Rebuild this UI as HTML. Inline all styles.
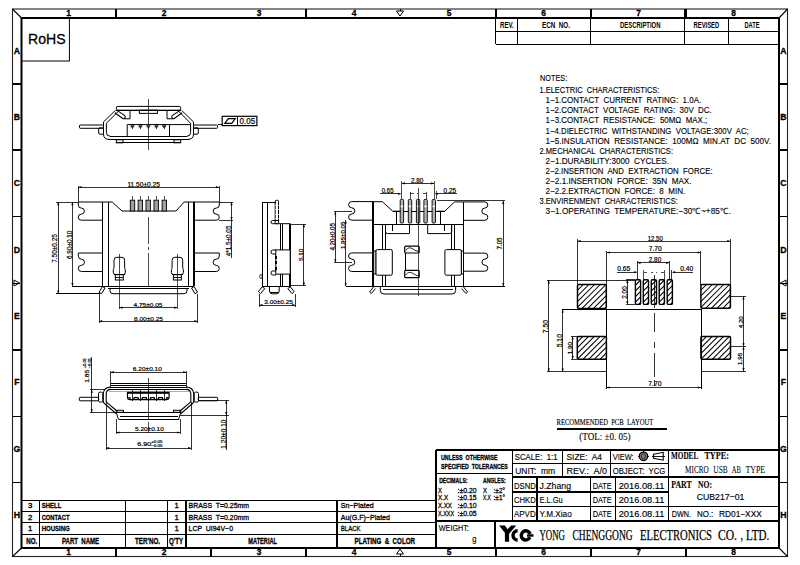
<!DOCTYPE html><html><head><meta charset="utf-8"><style>html,body{margin:0;padding:0;background:#fff;}svg{display:block;}</style></head><body><svg width="800" height="565" viewBox="0 0 800 565"><rect x="12.5" y="9" width="775" height="547.5" rx="0" fill="none" stroke="#222" stroke-width="1.1"/>
<rect x="21.5" y="18" width="757.5" height="530" rx="0" fill="none" stroke="#000" stroke-width="2.0"/>
<line x1="12.5" y1="9" x2="21.5" y2="18" stroke="#000" stroke-width="1.1"/>
<line x1="787.5" y1="9" x2="779" y2="18" stroke="#000" stroke-width="1.1"/>
<line x1="12.5" y1="556.5" x2="21.5" y2="548" stroke="#000" stroke-width="1.1"/>
<line x1="787.5" y1="556.5" x2="779" y2="548" stroke="#000" stroke-width="1.1"/>
<line x1="116" y1="9" x2="116" y2="18" stroke="#000" stroke-width="1.1" shape-rendering="crispEdges"/>
<line x1="306" y1="9" x2="306" y2="18" stroke="#000" stroke-width="1.1" shape-rendering="crispEdges"/>
<line x1="496" y1="9" x2="496" y2="18" stroke="#000" stroke-width="1.1" shape-rendering="crispEdges"/>
<line x1="591" y1="9" x2="591" y2="18" stroke="#000" stroke-width="1.1" shape-rendering="crispEdges"/>
<line x1="686" y1="9" x2="686" y2="18" stroke="#000" stroke-width="1.1" shape-rendering="crispEdges"/>
<line x1="116" y1="548" x2="116" y2="556.5" stroke="#000" stroke-width="1.1" shape-rendering="crispEdges"/>
<line x1="211" y1="548" x2="211" y2="556.5" stroke="#000" stroke-width="1.1" shape-rendering="crispEdges"/>
<line x1="306" y1="548" x2="306" y2="556.5" stroke="#000" stroke-width="1.1" shape-rendering="crispEdges"/>
<line x1="496" y1="548" x2="496" y2="556.5" stroke="#000" stroke-width="1.1" shape-rendering="crispEdges"/>
<line x1="591" y1="548" x2="591" y2="556.5" stroke="#000" stroke-width="1.1" shape-rendering="crispEdges"/>
<line x1="686" y1="548" x2="686" y2="556.5" stroke="#000" stroke-width="1.1" shape-rendering="crispEdges"/>
<line x1="12.5" y1="84" x2="21.5" y2="84" stroke="#000" stroke-width="1.1" shape-rendering="crispEdges"/>
<line x1="779" y1="84" x2="787.5" y2="84" stroke="#000" stroke-width="1.1" shape-rendering="crispEdges"/>
<line x1="12.5" y1="150" x2="21.5" y2="150" stroke="#000" stroke-width="1.1" shape-rendering="crispEdges"/>
<line x1="779" y1="150" x2="787.5" y2="150" stroke="#000" stroke-width="1.1" shape-rendering="crispEdges"/>
<line x1="12.5" y1="216.5" x2="21.5" y2="216.5" stroke="#000" stroke-width="1.1" shape-rendering="crispEdges"/>
<line x1="779" y1="216.5" x2="787.5" y2="216.5" stroke="#000" stroke-width="1.1" shape-rendering="crispEdges"/>
<line x1="12.5" y1="350" x2="21.5" y2="350" stroke="#000" stroke-width="1.1" shape-rendering="crispEdges"/>
<line x1="779" y1="350" x2="787.5" y2="350" stroke="#000" stroke-width="1.1" shape-rendering="crispEdges"/>
<line x1="12.5" y1="416.5" x2="21.5" y2="416.5" stroke="#000" stroke-width="1.1" shape-rendering="crispEdges"/>
<line x1="779" y1="416.5" x2="787.5" y2="416.5" stroke="#000" stroke-width="1.1" shape-rendering="crispEdges"/>
<line x1="12.5" y1="482.5" x2="21.5" y2="482.5" stroke="#000" stroke-width="1.1" shape-rendering="crispEdges"/>
<line x1="779" y1="482.5" x2="787.5" y2="482.5" stroke="#000" stroke-width="1.1" shape-rendering="crispEdges"/>
<text x="68.5" y="16.3" font-family="Liberation Sans" font-size="8.43" font-weight="bold" text-anchor="middle" stroke="#000" stroke-width="0.3" fill="#000" style="white-space:pre">1</text>
<text x="68.5" y="555.3" font-family="Liberation Sans" font-size="8.43" font-weight="bold" text-anchor="middle" stroke="#000" stroke-width="0.3" fill="#000" style="white-space:pre">1</text>
<text x="164" y="16.3" font-family="Liberation Sans" font-size="8.43" font-weight="bold" text-anchor="middle" stroke="#000" stroke-width="0.3" fill="#000" style="white-space:pre">2</text>
<text x="164" y="555.3" font-family="Liberation Sans" font-size="8.43" font-weight="bold" text-anchor="middle" stroke="#000" stroke-width="0.3" fill="#000" style="white-space:pre">2</text>
<text x="259" y="16.3" font-family="Liberation Sans" font-size="8.43" font-weight="bold" text-anchor="middle" stroke="#000" stroke-width="0.3" fill="#000" style="white-space:pre">3</text>
<text x="259" y="555.3" font-family="Liberation Sans" font-size="8.43" font-weight="bold" text-anchor="middle" stroke="#000" stroke-width="0.3" fill="#000" style="white-space:pre">3</text>
<text x="354" y="16.3" font-family="Liberation Sans" font-size="8.43" font-weight="bold" text-anchor="middle" stroke="#000" stroke-width="0.3" fill="#000" style="white-space:pre">4</text>
<text x="354" y="555.3" font-family="Liberation Sans" font-size="8.43" font-weight="bold" text-anchor="middle" stroke="#000" stroke-width="0.3" fill="#000" style="white-space:pre">4</text>
<text x="449" y="16.3" font-family="Liberation Sans" font-size="8.43" font-weight="bold" text-anchor="middle" stroke="#000" stroke-width="0.3" fill="#000" style="white-space:pre">5</text>
<text x="449" y="555.3" font-family="Liberation Sans" font-size="8.43" font-weight="bold" text-anchor="middle" stroke="#000" stroke-width="0.3" fill="#000" style="white-space:pre">5</text>
<text x="543.5" y="16.3" font-family="Liberation Sans" font-size="8.43" font-weight="bold" text-anchor="middle" stroke="#000" stroke-width="0.3" fill="#000" style="white-space:pre">6</text>
<text x="543.5" y="555.3" font-family="Liberation Sans" font-size="8.43" font-weight="bold" text-anchor="middle" stroke="#000" stroke-width="0.3" fill="#000" style="white-space:pre">6</text>
<text x="638.5" y="16.3" font-family="Liberation Sans" font-size="8.43" font-weight="bold" text-anchor="middle" stroke="#000" stroke-width="0.3" fill="#000" style="white-space:pre">7</text>
<text x="638.5" y="555.3" font-family="Liberation Sans" font-size="8.43" font-weight="bold" text-anchor="middle" stroke="#000" stroke-width="0.3" fill="#000" style="white-space:pre">7</text>
<text x="733.5" y="16.3" font-family="Liberation Sans" font-size="8.43" font-weight="bold" text-anchor="middle" stroke="#000" stroke-width="0.3" fill="#000" style="white-space:pre">8</text>
<text x="733.5" y="555.3" font-family="Liberation Sans" font-size="8.43" font-weight="bold" text-anchor="middle" stroke="#000" stroke-width="0.3" fill="#000" style="white-space:pre">8</text>
<text x="17" y="53.5" font-family="Liberation Sans" font-size="8.72" font-weight="bold" text-anchor="middle" stroke="#000" stroke-width="0.3" fill="#000" style="white-space:pre">A</text>
<text x="783.3" y="53.5" font-family="Liberation Sans" font-size="8.72" font-weight="bold" text-anchor="middle" stroke="#000" stroke-width="0.3" fill="#000" style="white-space:pre">A</text>
<text x="17" y="120" font-family="Liberation Sans" font-size="8.72" font-weight="bold" text-anchor="middle" stroke="#000" stroke-width="0.3" fill="#000" style="white-space:pre">B</text>
<text x="783.3" y="120" font-family="Liberation Sans" font-size="8.72" font-weight="bold" text-anchor="middle" stroke="#000" stroke-width="0.3" fill="#000" style="white-space:pre">B</text>
<text x="17" y="186" font-family="Liberation Sans" font-size="8.72" font-weight="bold" text-anchor="middle" stroke="#000" stroke-width="0.3" fill="#000" style="white-space:pre">C</text>
<text x="783.3" y="186" font-family="Liberation Sans" font-size="8.72" font-weight="bold" text-anchor="middle" stroke="#000" stroke-width="0.3" fill="#000" style="white-space:pre">C</text>
<text x="17" y="252.5" font-family="Liberation Sans" font-size="8.72" font-weight="bold" text-anchor="middle" stroke="#000" stroke-width="0.3" fill="#000" style="white-space:pre">D</text>
<text x="783.3" y="252.5" font-family="Liberation Sans" font-size="8.72" font-weight="bold" text-anchor="middle" stroke="#000" stroke-width="0.3" fill="#000" style="white-space:pre">D</text>
<text x="17" y="319" font-family="Liberation Sans" font-size="8.72" font-weight="bold" text-anchor="middle" stroke="#000" stroke-width="0.3" fill="#000" style="white-space:pre">E</text>
<text x="783.3" y="319" font-family="Liberation Sans" font-size="8.72" font-weight="bold" text-anchor="middle" stroke="#000" stroke-width="0.3" fill="#000" style="white-space:pre">E</text>
<text x="17" y="385" font-family="Liberation Sans" font-size="8.72" font-weight="bold" text-anchor="middle" stroke="#000" stroke-width="0.3" fill="#000" style="white-space:pre">F</text>
<text x="783.3" y="385" font-family="Liberation Sans" font-size="8.72" font-weight="bold" text-anchor="middle" stroke="#000" stroke-width="0.3" fill="#000" style="white-space:pre">F</text>
<text x="17" y="451.5" font-family="Liberation Sans" font-size="8.72" font-weight="bold" text-anchor="middle" stroke="#000" stroke-width="0.3" fill="#000" style="white-space:pre">G</text>
<text x="783.3" y="451.5" font-family="Liberation Sans" font-size="8.72" font-weight="bold" text-anchor="middle" stroke="#000" stroke-width="0.3" fill="#000" style="white-space:pre">G</text>
<text x="17" y="518" font-family="Liberation Sans" font-size="8.72" font-weight="bold" text-anchor="middle" stroke="#000" stroke-width="0.3" fill="#000" style="white-space:pre">H</text>
<text x="783.3" y="518" font-family="Liberation Sans" font-size="8.72" font-weight="bold" text-anchor="middle" stroke="#000" stroke-width="0.3" fill="#000" style="white-space:pre">H</text>
<polygon points="396.5,11 403.5,11 400,16" fill="none" stroke="#000" stroke-width="1.0"/>
<polygon points="396.5,554 403.5,554 400,549" fill="none" stroke="#000" stroke-width="1.0"/>
<polygon points="14,280 14,286 19.5,283" fill="none" stroke="#000" stroke-width="1.0"/>
<polygon points="786,280 786,286 780.5,283" fill="none" stroke="#000" stroke-width="1.0"/>
<line x1="12.5" y1="283" x2="19.5" y2="283" stroke="#000" stroke-width="1.0" shape-rendering="crispEdges"/>
<line x1="779.5" y1="283" x2="787.5" y2="283" stroke="#000" stroke-width="1.0" shape-rendering="crispEdges"/>
<line x1="400" y1="9" x2="400" y2="11" stroke="#000" stroke-width="1.0" shape-rendering="crispEdges"/>
<line x1="400" y1="556" x2="400" y2="554" stroke="#000" stroke-width="1.0" shape-rendering="crispEdges"/>
<rect x="21.5" y="18" width="47.9" height="43" rx="0" fill="none" stroke="#000" stroke-width="1.0"/>
<text x="28.1" y="44.4" font-family="Liberation Sans" font-size="15.41" textLength="37.5" lengthAdjust="spacingAndGlyphs" stroke="#000" stroke-width="0.3" fill="#000" style="white-space:pre">RoHS</text>
<line x1="495.5" y1="9" x2="495.5" y2="44" stroke="#000" stroke-width="1.6" shape-rendering="crispEdges"/>
<line x1="590" y1="9" x2="590" y2="44" stroke="#000" stroke-width="1.0" shape-rendering="crispEdges"/>
<line x1="684.5" y1="9" x2="684.5" y2="44" stroke="#000" stroke-width="1.0" shape-rendering="crispEdges"/>
<line x1="517.3" y1="18" x2="517.3" y2="44" stroke="#000" stroke-width="1.0" shape-rendering="crispEdges"/>
<line x1="728.8" y1="18" x2="728.8" y2="44" stroke="#000" stroke-width="1.0" shape-rendering="crispEdges"/>
<line x1="495.5" y1="31" x2="779" y2="31" stroke="#000" stroke-width="1.0" shape-rendering="crispEdges"/>
<line x1="495.5" y1="44.3" x2="779" y2="44.3" stroke="#000" stroke-width="1.2" shape-rendering="crispEdges"/>
<text x="500" y="27.8" font-family="Liberation Sans" font-size="8.58" font-weight="bold" textLength="13.8" lengthAdjust="spacingAndGlyphs" fill="#000" style="white-space:pre">REV.</text>
<text x="542" y="27.8" font-family="Liberation Sans" font-size="8.58" font-weight="bold" textLength="28" lengthAdjust="spacingAndGlyphs" fill="#000" style="white-space:pre">ECN  NO.</text>
<text x="620" y="27.8" font-family="Liberation Sans" font-size="8.58" font-weight="bold" textLength="40.5" lengthAdjust="spacingAndGlyphs" fill="#000" style="white-space:pre">DESCRIPTION</text>
<text x="693.5" y="27.8" font-family="Liberation Sans" font-size="8.58" font-weight="bold" textLength="25.7" lengthAdjust="spacingAndGlyphs" fill="#000" style="white-space:pre">REVISED</text>
<text x="744.4" y="27.8" font-family="Liberation Sans" font-size="8.58" font-weight="bold" textLength="15.1" lengthAdjust="spacingAndGlyphs" fill="#000" style="white-space:pre">DATE</text>
<text x="540" y="81.3" font-family="Liberation Sans" font-size="8.43" textLength="27.2" lengthAdjust="spacingAndGlyphs" stroke="#000" stroke-width="0.12" fill="#000" style="white-space:pre">NOTES:</text>
<text x="539.5" y="93.4" font-family="Liberation Sans" font-size="8.58" textLength="119.9" lengthAdjust="spacingAndGlyphs" stroke="#000" stroke-width="0.12" fill="#000" style="white-space:pre">1.ELECTRIC  CHARACTERISTICS:</text>
<text x="545.6" y="103.43" font-family="Liberation Sans" font-size="8.58" textLength="155.6" lengthAdjust="spacingAndGlyphs" stroke="#000" stroke-width="0.12" fill="#000" style="white-space:pre">1−1.CONTACT  CURRENT  RATING:  1.0A.</text>
<text x="545.6" y="113.46" font-family="Liberation Sans" font-size="8.58" textLength="166.1" lengthAdjust="spacingAndGlyphs" stroke="#000" stroke-width="0.12" fill="#000" style="white-space:pre">1−2.CONTACT  VOLTAGE  RATING:  30V  DC.</text>
<text x="545.6" y="123.49" font-family="Liberation Sans" font-size="8.58" textLength="161.7" lengthAdjust="spacingAndGlyphs" stroke="#000" stroke-width="0.12" fill="#000" style="white-space:pre">1−3.CONTACT  RESISTANCE:  50MΩ  MAX.;</text>
<text x="545.6" y="133.52" font-family="Liberation Sans" font-size="8.58" textLength="203.2" lengthAdjust="spacingAndGlyphs" stroke="#000" stroke-width="0.12" fill="#000" style="white-space:pre">1−4.DIELECTRIC  WITHSTANDING  VOLTAGE:300V  AC;</text>
<text x="545.6" y="143.55" font-family="Liberation Sans" font-size="8.58" textLength="225.4" lengthAdjust="spacingAndGlyphs" stroke="#000" stroke-width="0.12" fill="#000" style="white-space:pre">1−5.INSULATION  RESISTANCE:  100MΩ  MIN.AT  DC  500V.</text>
<text x="539.5" y="153.58" font-family="Liberation Sans" font-size="8.58" textLength="133.5" lengthAdjust="spacingAndGlyphs" stroke="#000" stroke-width="0.12" fill="#000" style="white-space:pre">2.MECHANICAL  CHARACTERISTICS:</text>
<text x="545.6" y="163.61" font-family="Liberation Sans" font-size="8.58" textLength="123.4" lengthAdjust="spacingAndGlyphs" stroke="#000" stroke-width="0.12" fill="#000" style="white-space:pre">2−1.DURABILITY:3000  CYCLES.</text>
<text x="545.6" y="173.64" font-family="Liberation Sans" font-size="8.58" textLength="167" lengthAdjust="spacingAndGlyphs" stroke="#000" stroke-width="0.12" fill="#000" style="white-space:pre">2−2.INSERTION  AND  EXTRACTION  FORCE:</text>
<text x="545.6" y="183.67" font-family="Liberation Sans" font-size="8.58" textLength="145.9" lengthAdjust="spacingAndGlyphs" stroke="#000" stroke-width="0.12" fill="#000" style="white-space:pre">2−2.1.INSERTION  FORCE:  35N  MAX.</text>
<text x="545.6" y="193.7" font-family="Liberation Sans" font-size="8.58" textLength="139.7" lengthAdjust="spacingAndGlyphs" stroke="#000" stroke-width="0.12" fill="#000" style="white-space:pre">2−2.2.EXTRACTION  FORCE:  8  MIN.</text>
<text x="539.5" y="203.73" font-family="Liberation Sans" font-size="8.58" textLength="138.4" lengthAdjust="spacingAndGlyphs" stroke="#000" stroke-width="0.12" fill="#000" style="white-space:pre">3.ENVIRENMENT  CHARACTERISTICS:</text>
<text x="545.6" y="213.76" font-family="Liberation Sans" font-size="8.58" textLength="185.2" lengthAdjust="spacingAndGlyphs" stroke="#000" stroke-width="0.12" fill="#000" style="white-space:pre">3−1.OPERATING  TEMPERATURE:−30℃~+85℃.</text>
<clipPath id="c97"><rect x="577.5" y="284.5" width="28.8" height="23.9"/></clipPath>
<path d="M553.6,308.4 L577.5,284.5 M559.3,308.4 L583.2,284.5 M565,308.4 L588.9,284.5 M570.7,308.4 L594.6,284.5 M576.4,308.4 L600.3,284.5 M582.1,308.4 L606,284.5 M587.8,308.4 L611.7,284.5 M593.5,308.4 L617.4,284.5 M599.2,308.4 L623.1,284.5 M604.9,308.4 L628.8,284.5 M610.6,308.4 L634.5,284.5 M616.3,308.4 L640.2,284.5 M622,308.4 L645.9,284.5 M627.7,308.4 L651.6,284.5" stroke="#000" stroke-width="1.05" clip-path="url(#c97)"/>
<rect x="577.5" y="284.5" width="28.8" height="23.9" rx="1.2" fill="none" stroke="#000" stroke-width="1.5"/>
<clipPath id="c100"><rect x="700.9" y="284.5" width="29.5" height="23.8"/></clipPath>
<path d="M677.1,308.3 L700.9,284.5 M682.8,308.3 L706.6,284.5 M688.5,308.3 L712.3,284.5 M694.2,308.3 L718,284.5 M699.9,308.3 L723.7,284.5 M705.6,308.3 L729.4,284.5 M711.3,308.3 L735.1,284.5 M717,308.3 L740.8,284.5 M722.7,308.3 L746.5,284.5 M728.4,308.3 L752.2,284.5 M734.1,308.3 L757.9,284.5 M739.8,308.3 L763.6,284.5 M745.5,308.3 L769.3,284.5 M751.2,308.3 L775,284.5" stroke="#000" stroke-width="1.05" clip-path="url(#c100)"/>
<rect x="700.9" y="284.5" width="29.5" height="23.8" rx="1.2" fill="none" stroke="#000" stroke-width="1.5"/>
<clipPath id="c103"><rect x="577.3" y="336.4" width="29.1" height="22.9"/></clipPath>
<path d="M554.4,359.3 L577.3,336.4 M560.1,359.3 L583,336.4 M565.8,359.3 L588.7,336.4 M571.5,359.3 L594.4,336.4 M577.2,359.3 L600.1,336.4 M582.9,359.3 L605.8,336.4 M588.6,359.3 L611.5,336.4 M594.3,359.3 L617.2,336.4 M600,359.3 L622.9,336.4 M605.7,359.3 L628.6,336.4 M611.4,359.3 L634.3,336.4 M617.1,359.3 L640,336.4 M622.8,359.3 L645.7,336.4 M628.5,359.3 L651.4,336.4" stroke="#000" stroke-width="1.05" clip-path="url(#c103)"/>
<rect x="577.3" y="336.4" width="29.1" height="22.9" rx="1.2" fill="none" stroke="#000" stroke-width="1.5"/>
<clipPath id="c106"><rect x="700.9" y="336.4" width="29.6" height="22.9"/></clipPath>
<path d="M678,359.3 L700.9,336.4 M683.7,359.3 L706.6,336.4 M689.4,359.3 L712.3,336.4 M695.1,359.3 L718,336.4 M700.8,359.3 L723.7,336.4 M706.5,359.3 L729.4,336.4 M712.2,359.3 L735.1,336.4 M717.9,359.3 L740.8,336.4 M723.6,359.3 L746.5,336.4 M729.3,359.3 L752.2,336.4 M735,359.3 L757.9,336.4 M740.7,359.3 L763.6,336.4 M746.4,359.3 L769.3,336.4 M752.1,359.3 L775,336.4" stroke="#000" stroke-width="1.05" clip-path="url(#c106)"/>
<rect x="700.9" y="336.4" width="29.6" height="22.9" rx="1.2" fill="none" stroke="#000" stroke-width="1.5"/>
<clipPath id="c109"><rect x="635.4" y="279.7" width="5.2" height="24.7"/></clipPath>
<path d="M610.7,304.4 L635.4,279.7 M616.3,304.4 L641,279.7 M621.9,304.4 L646.6,279.7 M627.5,304.4 L652.2,279.7 M633.1,304.4 L657.8,279.7 M638.7,304.4 L663.4,279.7 M644.3,304.4 L669,279.7 M649.9,304.4 L674.6,279.7 M655.5,304.4 L680.2,279.7 M661.1,304.4 L685.8,279.7" stroke="#000" stroke-width="1.05" clip-path="url(#c109)"/>
<rect x="635.4" y="279.7" width="5.2" height="24.7" rx="1.2" fill="none" stroke="#000" stroke-width="1.4"/>
<clipPath id="c112"><rect x="643.3" y="279.7" width="5.2" height="24.7"/></clipPath>
<path d="M618.6,304.4 L643.3,279.7 M624.2,304.4 L648.9,279.7 M629.8,304.4 L654.5,279.7 M635.4,304.4 L660.1,279.7 M641,304.4 L665.7,279.7 M646.6,304.4 L671.3,279.7 M652.2,304.4 L676.9,279.7 M657.8,304.4 L682.5,279.7 M663.4,304.4 L688.1,279.7 M669,304.4 L693.7,279.7" stroke="#000" stroke-width="1.05" clip-path="url(#c112)"/>
<rect x="643.3" y="279.7" width="5.2" height="24.7" rx="1.2" fill="none" stroke="#000" stroke-width="1.4"/>
<clipPath id="c115"><rect x="651.3" y="279.7" width="5.2" height="24.7"/></clipPath>
<path d="M626.6,304.4 L651.3,279.7 M632.2,304.4 L656.9,279.7 M637.8,304.4 L662.5,279.7 M643.4,304.4 L668.1,279.7 M649,304.4 L673.7,279.7 M654.6,304.4 L679.3,279.7 M660.2,304.4 L684.9,279.7 M665.8,304.4 L690.5,279.7 M671.4,304.4 L696.1,279.7 M677,304.4 L701.7,279.7" stroke="#000" stroke-width="1.05" clip-path="url(#c115)"/>
<rect x="651.3" y="279.7" width="5.2" height="24.7" rx="1.2" fill="none" stroke="#000" stroke-width="1.4"/>
<clipPath id="c118"><rect x="659.2" y="279.7" width="5.2" height="24.7"/></clipPath>
<path d="M634.5,304.4 L659.2,279.7 M640.1,304.4 L664.8,279.7 M645.7,304.4 L670.4,279.7 M651.3,304.4 L676,279.7 M656.9,304.4 L681.6,279.7 M662.5,304.4 L687.2,279.7 M668.1,304.4 L692.8,279.7 M673.7,304.4 L698.4,279.7 M679.3,304.4 L704,279.7 M684.9,304.4 L709.6,279.7" stroke="#000" stroke-width="1.05" clip-path="url(#c118)"/>
<rect x="659.2" y="279.7" width="5.2" height="24.7" rx="1.2" fill="none" stroke="#000" stroke-width="1.4"/>
<clipPath id="c121"><rect x="667.2" y="279.7" width="5.2" height="24.7"/></clipPath>
<path d="M642.5,304.4 L667.2,279.7 M648.1,304.4 L672.8,279.7 M653.7,304.4 L678.4,279.7 M659.3,304.4 L684,279.7 M664.9,304.4 L689.6,279.7 M670.5,304.4 L695.2,279.7 M676.1,304.4 L700.8,279.7 M681.7,304.4 L706.4,279.7 M687.3,304.4 L712,279.7 M692.9,304.4 L717.6,279.7" stroke="#000" stroke-width="1.05" clip-path="url(#c121)"/>
<rect x="667.2" y="279.7" width="5.2" height="24.7" rx="1.2" fill="none" stroke="#000" stroke-width="1.4"/>
<line x1="562" y1="309.4" x2="701" y2="309.4" stroke="#000" stroke-width="1.0" shape-rendering="crispEdges"/>
<line x1="606.5" y1="309.4" x2="606.5" y2="388.5" stroke="#000" stroke-width="1.0" shape-rendering="crispEdges"/>
<line x1="701" y1="309.4" x2="701" y2="388.5" stroke="#000" stroke-width="1.0" shape-rendering="crispEdges"/>
<line x1="577.5" y1="241" x2="730.4" y2="241" stroke="#000" stroke-width="0.8" shape-rendering="crispEdges"/>
<polygon points="577.5,241 580.7,239.9 580.7,242.1" fill="#000"/>
<polygon points="730.4,241 727.2,242.1 727.2,239.9" fill="#000"/>
<line x1="577.5" y1="238.5" x2="577.5" y2="284.5" stroke="#000" stroke-width="0.8" shape-rendering="crispEdges"/>
<line x1="730.4" y1="238.5" x2="730.4" y2="284.5" stroke="#000" stroke-width="0.8" shape-rendering="crispEdges"/>
<text x="647.7" y="240.7" font-family="Liberation Sans" font-size="6.54" textLength="15.2" lengthAdjust="spacingAndGlyphs" stroke="#000" stroke-width="0.2" fill="#000" style="white-space:pre">12.50</text>
<line x1="606.6" y1="252.5" x2="700.9" y2="252.5" stroke="#000" stroke-width="0.8" shape-rendering="crispEdges"/>
<polygon points="606.6,252.5 609.8,251.4 609.8,253.6" fill="#000"/>
<polygon points="700.9,252.5 697.7,253.6 697.7,251.4" fill="#000"/>
<line x1="606.6" y1="250.5" x2="606.6" y2="284.5" stroke="#000" stroke-width="0.8" shape-rendering="crispEdges"/>
<line x1="700.9" y1="250.5" x2="700.9" y2="284.5" stroke="#000" stroke-width="0.8" shape-rendering="crispEdges"/>
<text x="648.8" y="251.4" font-family="Liberation Sans" font-size="6.54" textLength="12.9" lengthAdjust="spacingAndGlyphs" stroke="#000" stroke-width="0.2" fill="#000" style="white-space:pre">7.70</text>
<line x1="637.3" y1="262.8" x2="669.4" y2="262.8" stroke="#000" stroke-width="0.8" shape-rendering="crispEdges"/>
<polygon points="637.3,262.8 640.5,261.7 640.5,263.9" fill="#000"/>
<polygon points="669.4,262.8 666.2,263.9 666.2,261.7" fill="#000"/>
<line x1="637.5" y1="260.5" x2="637.5" y2="279.7" stroke="#000" stroke-width="0.8" shape-rendering="crispEdges"/>
<line x1="669.6" y1="260.5" x2="669.6" y2="279.7" stroke="#000" stroke-width="0.8" shape-rendering="crispEdges"/>
<text x="648.8" y="262" font-family="Liberation Sans" font-size="6.4" textLength="12.4" lengthAdjust="spacingAndGlyphs" stroke="#000" stroke-width="0.2" fill="#000" style="white-space:pre">2.80</text>
<line x1="617" y1="272.2" x2="635.3" y2="272.2" stroke="#000" stroke-width="0.8" shape-rendering="crispEdges"/>
<polygon points="637.5,272.2 634.3,273.3 634.3,271.1" fill="#000"/>
<text x="617.3" y="271" font-family="Liberation Sans" font-size="6.4" textLength="12.9" lengthAdjust="spacingAndGlyphs" stroke="#000" stroke-width="0.2" fill="#000" style="white-space:pre">0.65</text>
<line x1="673" y1="272.2" x2="693" y2="272.2" stroke="#000" stroke-width="0.8" shape-rendering="crispEdges"/>
<polygon points="671.9,272.2 675.1,271.1 675.1,273.3" fill="#000"/>
<text x="680.3" y="271" font-family="Liberation Sans" font-size="6.4" textLength="12.9" lengthAdjust="spacingAndGlyphs" stroke="#000" stroke-width="0.2" fill="#000" style="white-space:pre">0.40</text>
<line x1="671.9" y1="270" x2="671.9" y2="279.7" stroke="#000" stroke-width="0.8" shape-rendering="crispEdges"/>
<line x1="643.6" y1="270" x2="643.6" y2="279.7" stroke="#000" stroke-width="0.7" shape-rendering="crispEdges"/>
<line x1="643.6" y1="272.2" x2="647.2" y2="272.2" stroke="#000" stroke-width="0.7" shape-rendering="crispEdges"/>
<line x1="664.2" y1="270" x2="664.2" y2="279.7" stroke="#000" stroke-width="0.7" shape-rendering="crispEdges"/>
<line x1="660.6" y1="272.2" x2="664.2" y2="272.2" stroke="#000" stroke-width="0.7" shape-rendering="crispEdges"/>
<line x1="651.3" y1="272.2" x2="652.5" y2="272.2" stroke="#000" stroke-width="0.7" shape-rendering="crispEdges"/>
<line x1="655.5" y1="272.2" x2="656.7" y2="272.2" stroke="#000" stroke-width="0.7" shape-rendering="crispEdges"/>
<line x1="627.3" y1="279.7" x2="627.3" y2="304.4" stroke="#000" stroke-width="0.8" shape-rendering="crispEdges"/>
<polygon points="627.3,279.7 628.4,282.9 626.2,282.9" fill="#000"/>
<polygon points="627.3,304.4 626.2,301.2 628.4,301.2" fill="#000"/>
<line x1="625.5" y1="279.7" x2="635.3" y2="279.7" stroke="#000" stroke-width="0.8" shape-rendering="crispEdges"/>
<line x1="625.5" y1="304.4" x2="635.3" y2="304.4" stroke="#000" stroke-width="0.8" shape-rendering="crispEdges"/>
<text x="0" y="0" font-family="Liberation Sans" font-size="6.54" textLength="12.7" lengthAdjust="spacingAndGlyphs" text-anchor="middle" stroke="#000" stroke-width="0.2" style="white-space:pre" transform="translate(626.55 292.5) rotate(-90)">2.00</text>
<line x1="548.8" y1="280.2" x2="548.8" y2="371.7" stroke="#000" stroke-width="0.8" shape-rendering="crispEdges"/>
<polygon points="548.8,280.2 549.9,283.4 547.7,283.4" fill="#000"/>
<polygon points="548.8,371.7 547.7,368.5 549.9,368.5" fill="#000"/>
<line x1="547" y1="280.2" x2="635" y2="280.2" stroke="#000" stroke-width="0.8" shape-rendering="crispEdges"/>
<line x1="547" y1="371.7" x2="606.5" y2="371.7" stroke="#000" stroke-width="0.8" shape-rendering="crispEdges"/>
<text x="0" y="0" font-family="Liberation Sans" font-size="6.54" textLength="13.3" lengthAdjust="spacingAndGlyphs" text-anchor="middle" stroke="#000" stroke-width="0.2" style="white-space:pre" transform="translate(548.45 326.5) rotate(-90)">7.50</text>
<line x1="562.7" y1="309.4" x2="562.7" y2="371.7" stroke="#000" stroke-width="0.8" shape-rendering="crispEdges"/>
<polygon points="562.7,309.4 563.8,312.6 561.6,312.6" fill="#000"/>
<polygon points="562.7,371.7 561.6,368.5 563.8,368.5" fill="#000"/>
<text x="0" y="0" font-family="Liberation Sans" font-size="6.54" textLength="13.3" lengthAdjust="spacingAndGlyphs" text-anchor="middle" stroke="#000" stroke-width="0.2" style="white-space:pre" transform="translate(562.15 340.7) rotate(-90)">5.10</text>
<line x1="572.7" y1="336.4" x2="572.7" y2="359.3" stroke="#000" stroke-width="0.8" shape-rendering="crispEdges"/>
<polygon points="572.7,336.4 573.8,339.6 571.6,339.6" fill="#000"/>
<polygon points="572.7,359.3 571.6,356.1 573.8,356.1" fill="#000"/>
<line x1="571" y1="336.4" x2="577.3" y2="336.4" stroke="#000" stroke-width="0.8" shape-rendering="crispEdges"/>
<line x1="571" y1="359.3" x2="577.3" y2="359.3" stroke="#000" stroke-width="0.8" shape-rendering="crispEdges"/>
<text x="0" y="0" font-family="Liberation Sans" font-size="5.81" textLength="12.3" lengthAdjust="spacingAndGlyphs" text-anchor="middle" stroke="#000" stroke-width="0.2" style="white-space:pre" transform="translate(572.1 348.2) rotate(-90)">1.90</text>
<line x1="606.5" y1="387.5" x2="701" y2="387.5" stroke="#000" stroke-width="0.8" shape-rendering="crispEdges"/>
<polygon points="606.5,387.5 609.7,386.4 609.7,388.6" fill="#000"/>
<polygon points="701,387.5 697.8,388.6 697.8,386.4" fill="#000"/>
<text x="648.3" y="386.3" font-family="Liberation Sans" font-size="6.54" textLength="13.2" lengthAdjust="spacingAndGlyphs" stroke="#000" stroke-width="0.2" fill="#000" style="white-space:pre">7.70</text>
<line x1="743.5" y1="296.4" x2="743.5" y2="346.5" stroke="#000" stroke-width="0.8" shape-rendering="crispEdges"/>
<polygon points="743.5,296.4 744.6,299.6 742.4,299.6" fill="#000"/>
<polygon points="743.5,346.5 742.4,343.3 744.6,343.3" fill="#000"/>
<line x1="730.4" y1="296.4" x2="746" y2="296.4" stroke="#000" stroke-width="0.8" shape-rendering="crispEdges"/>
<line x1="730.5" y1="346.5" x2="746" y2="346.5" stroke="#000" stroke-width="0.8" shape-rendering="crispEdges"/>
<line x1="743.5" y1="346.5" x2="743.5" y2="371.2" stroke="#000" stroke-width="0.8" shape-rendering="crispEdges"/>
<polygon points="743.5,346.5 744.6,349.7 742.4,349.7" fill="#000"/>
<polygon points="743.5,371.2 742.4,368 744.6,368" fill="#000"/>
<line x1="701" y1="371.2" x2="746" y2="371.2" stroke="#000" stroke-width="0.8" shape-rendering="crispEdges"/>
<text x="0" y="0" font-family="Liberation Sans" font-size="6.1" textLength="12" lengthAdjust="spacingAndGlyphs" text-anchor="middle" stroke="#000" stroke-width="0.2" style="white-space:pre" transform="translate(743 322.2) rotate(-90)">4.20</text>
<text x="0" y="0" font-family="Liberation Sans" font-size="6.1" textLength="12" lengthAdjust="spacingAndGlyphs" text-anchor="middle" stroke="#000" stroke-width="0.2" style="white-space:pre" transform="translate(742.1 358.9) rotate(-90)">1.95</text>
<line x1="654" y1="274.5" x2="654" y2="308" stroke="#000" stroke-width="0.8" shape-rendering="crispEdges"/>
<line x1="654" y1="312.5" x2="654" y2="332" stroke="#000" stroke-width="0.8" shape-rendering="crispEdges"/>
<line x1="654" y1="341.7" x2="654" y2="347.6" stroke="#000" stroke-width="0.8" shape-rendering="crispEdges"/>
<line x1="654" y1="353.4" x2="654" y2="376.8" stroke="#000" stroke-width="0.8" shape-rendering="crispEdges"/>
<line x1="654" y1="380" x2="654" y2="386" stroke="#000" stroke-width="0.8" shape-rendering="crispEdges"/>
<text x="556.5" y="425.3" font-family="Liberation Serif" font-size="9.01" textLength="96.8" lengthAdjust="spacingAndGlyphs" stroke="#000" stroke-width="0.15" fill="#000" style="white-space:pre">RECOMMENDED  PCB  LAYOUT</text>
<line x1="556.5" y1="428.9" x2="667" y2="428.9" stroke="#000" stroke-width="1.3" shape-rendering="crispEdges"/>
<text x="579.3" y="440" font-family="Liberation Serif" font-size="9.47" textLength="51.2" lengthAdjust="spacingAndGlyphs" stroke="#000" stroke-width="0.1" fill="#000" style="white-space:pre">(TOL: ±0. 05)</text>
<line x1="435.5" y1="449.5" x2="779" y2="449.5" stroke="#000" stroke-width="2.0" shape-rendering="crispEdges"/>
<line x1="435.5" y1="449.5" x2="435.5" y2="548" stroke="#000" stroke-width="2.0" shape-rendering="crispEdges"/>
<line x1="512.3" y1="449.5" x2="512.3" y2="520.5" stroke="#000" stroke-width="1.5" shape-rendering="crispEdges"/>
<line x1="495.1" y1="520.5" x2="495.1" y2="548" stroke="#000" stroke-width="1.5" shape-rendering="crispEdges"/>
<line x1="562.3" y1="449.5" x2="562.3" y2="477.2" stroke="#000" stroke-width="1.5" shape-rendering="crispEdges"/>
<line x1="610.5" y1="449.5" x2="610.5" y2="477.2" stroke="#000" stroke-width="1.5" shape-rendering="crispEdges"/>
<line x1="537.2" y1="477.2" x2="537.2" y2="520.5" stroke="#000" stroke-width="1.5" shape-rendering="crispEdges"/>
<line x1="590.5" y1="477.2" x2="590.5" y2="520.5" stroke="#000" stroke-width="1.5" shape-rendering="crispEdges"/>
<line x1="615.3" y1="477.2" x2="615.3" y2="520.5" stroke="#000" stroke-width="1.5" shape-rendering="crispEdges"/>
<line x1="668.7" y1="449.5" x2="668.7" y2="520.5" stroke="#000" stroke-width="1.5" shape-rendering="crispEdges"/>
<line x1="435.5" y1="473.3" x2="512.3" y2="473.3" stroke="#000" stroke-width="1.5" shape-rendering="crispEdges"/>
<line x1="435.5" y1="520.5" x2="779" y2="520.5" stroke="#000" stroke-width="2.0" shape-rendering="crispEdges"/>
<line x1="512.3" y1="463.3" x2="668.7" y2="463.3" stroke="#000" stroke-width="1.5" shape-rendering="crispEdges"/>
<line x1="512.3" y1="477.2" x2="779" y2="477.2" stroke="#000" stroke-width="1.5" shape-rendering="crispEdges"/>
<line x1="512.3" y1="491.8" x2="668.7" y2="491.8" stroke="#000" stroke-width="1.5" shape-rendering="crispEdges"/>
<line x1="512.3" y1="506.3" x2="779" y2="506.3" stroke="#000" stroke-width="1.5" shape-rendering="crispEdges"/>
<text x="441" y="459.9" font-family="Liberation Sans" font-size="7.7" font-weight="bold" textLength="56.6" lengthAdjust="spacingAndGlyphs" stroke="#000" stroke-width="0.3" fill="#000" style="white-space:pre">UNLESS  OTHERWISE</text>
<text x="441" y="468.8" font-family="Liberation Sans" font-size="7.7" font-weight="bold" textLength="66.8" lengthAdjust="spacingAndGlyphs" stroke="#000" stroke-width="0.3" fill="#000" style="white-space:pre">SPECIFIED  TOLERANCES</text>
<text x="439.2" y="482.5" font-family="Liberation Sans" font-size="7.56" font-weight="bold" textLength="28.3" lengthAdjust="spacingAndGlyphs" stroke="#000" stroke-width="0.3" fill="#000" style="white-space:pre">DECIMALS:</text>
<text x="483" y="482.5" font-family="Liberation Sans" font-size="7.56" font-weight="bold" textLength="22.7" lengthAdjust="spacingAndGlyphs" stroke="#000" stroke-width="0.3" fill="#000" style="white-space:pre">ANGLES:</text>
<text x="438" y="492.8" font-family="Liberation Sans" font-size="7.85" textLength="4" lengthAdjust="spacingAndGlyphs" stroke="#000" stroke-width="0.3" fill="#000" style="white-space:pre">X</text>
<text x="457.6" y="492.8" font-family="Liberation Sans" font-size="7.85" textLength="19.1" lengthAdjust="spacingAndGlyphs" stroke="#000" stroke-width="0.3" fill="#000" style="white-space:pre">:±0.20</text>
<text x="438" y="500.4" font-family="Liberation Sans" font-size="7.85" textLength="10.1" lengthAdjust="spacingAndGlyphs" stroke="#000" stroke-width="0.3" fill="#000" style="white-space:pre">X.X</text>
<text x="457.6" y="500.4" font-family="Liberation Sans" font-size="7.85" textLength="19.1" lengthAdjust="spacingAndGlyphs" stroke="#000" stroke-width="0.3" fill="#000" style="white-space:pre">:±0.15</text>
<text x="438" y="508" font-family="Liberation Sans" font-size="7.85" textLength="13.9" lengthAdjust="spacingAndGlyphs" stroke="#000" stroke-width="0.3" fill="#000" style="white-space:pre">X.XX</text>
<text x="457.6" y="508" font-family="Liberation Sans" font-size="7.85" textLength="19.1" lengthAdjust="spacingAndGlyphs" stroke="#000" stroke-width="0.3" fill="#000" style="white-space:pre">:±0.10</text>
<text x="438" y="515.6" font-family="Liberation Sans" font-size="7.85" textLength="16" lengthAdjust="spacingAndGlyphs" stroke="#000" stroke-width="0.3" fill="#000" style="white-space:pre">X.XXX</text>
<text x="457.6" y="515.6" font-family="Liberation Sans" font-size="7.85" textLength="19.1" lengthAdjust="spacingAndGlyphs" stroke="#000" stroke-width="0.3" fill="#000" style="white-space:pre">:±0.05</text>
<text x="483" y="492.8" font-family="Liberation Sans" font-size="7.85" textLength="4" lengthAdjust="spacingAndGlyphs" stroke="#000" stroke-width="0.3" fill="#000" style="white-space:pre">X</text>
<text x="493.6" y="492.8" font-family="Liberation Sans" font-size="7.85" textLength="11.4" lengthAdjust="spacingAndGlyphs" stroke="#000" stroke-width="0.3" fill="#000" style="white-space:pre">:±2°</text>
<text x="483" y="500.4" font-family="Liberation Sans" font-size="7.85" textLength="7.8" lengthAdjust="spacingAndGlyphs" stroke="#000" stroke-width="0.3" fill="#000" style="white-space:pre">X.X</text>
<text x="493.6" y="500.4" font-family="Liberation Sans" font-size="7.85" textLength="11.4" lengthAdjust="spacingAndGlyphs" stroke="#000" stroke-width="0.3" fill="#000" style="white-space:pre">:±1°</text>
<text x="438.8" y="530.6" font-family="Liberation Sans" font-size="8.14" textLength="30" lengthAdjust="spacingAndGlyphs" stroke="#000" stroke-width="0.15" fill="#000" style="white-space:pre">WEIGHT:</text>
<text x="472.3" y="541.5" font-family="Liberation Sans" font-size="8.14" textLength="4.2" lengthAdjust="spacingAndGlyphs" stroke="#000" stroke-width="0.15" fill="#000" style="white-space:pre">g</text>
<text x="514.7" y="460.2" font-family="Liberation Sans" font-size="9.88" textLength="42.8" lengthAdjust="spacingAndGlyphs" stroke="#000" stroke-width="0.15" fill="#000" style="white-space:pre">SCALE:  1:1</text>
<text x="566.5" y="460.2" font-family="Liberation Sans" font-size="9.88" textLength="35.5" lengthAdjust="spacingAndGlyphs" stroke="#000" stroke-width="0.15" fill="#000" style="white-space:pre">SIZE:  A4</text>
<text x="612.7" y="460.2" font-family="Liberation Sans" font-size="9.88" textLength="21" lengthAdjust="spacingAndGlyphs" stroke="#000" stroke-width="0.15" fill="#000" style="white-space:pre">VIEW:</text>
<text x="515.2" y="474.3" font-family="Liberation Sans" font-size="9.88" textLength="40" lengthAdjust="spacingAndGlyphs" stroke="#000" stroke-width="0.15" fill="#000" style="white-space:pre">UNIT:  mm</text>
<text x="566.5" y="474.3" font-family="Liberation Sans" font-size="9.88" textLength="40.5" lengthAdjust="spacingAndGlyphs" stroke="#000" stroke-width="0.15" fill="#000" style="white-space:pre">REV.:  A/0</text>
<text x="612.7" y="474.3" font-family="Liberation Sans" font-size="9.88" textLength="52.5" lengthAdjust="spacingAndGlyphs" stroke="#000" stroke-width="0.15" fill="#000" style="white-space:pre">OBJECT:  YCG</text>
<text x="514" y="488.5" font-family="Liberation Sans" font-size="9.88" textLength="21.7" lengthAdjust="spacingAndGlyphs" stroke="#000" stroke-width="0.15" fill="#000" style="white-space:pre">DSND</text>
<text x="539.5" y="488.5" font-family="Liberation Sans" font-size="9.88" textLength="31.5" lengthAdjust="spacingAndGlyphs" stroke="#000" stroke-width="0.15" fill="#000" style="white-space:pre">J.Zhang</text>
<text x="592.7" y="488.5" font-family="Liberation Sans" font-size="9.88" textLength="19" lengthAdjust="spacingAndGlyphs" stroke="#000" stroke-width="0.15" fill="#000" style="white-space:pre">DATE</text>
<text x="618.7" y="488.5" font-family="Liberation Sans" font-size="9.88" textLength="45.8" lengthAdjust="spacingAndGlyphs" stroke="#000" stroke-width="0.15" fill="#000" style="white-space:pre">2016.08.11</text>
<text x="514" y="502.9" font-family="Liberation Sans" font-size="9.88" textLength="21.7" lengthAdjust="spacingAndGlyphs" stroke="#000" stroke-width="0.15" fill="#000" style="white-space:pre">CHKD</text>
<text x="539.5" y="502.9" font-family="Liberation Sans" font-size="9.88" textLength="23.2" lengthAdjust="spacingAndGlyphs" stroke="#000" stroke-width="0.15" fill="#000" style="white-space:pre">E.L.Gu</text>
<text x="592.7" y="502.9" font-family="Liberation Sans" font-size="9.88" textLength="19" lengthAdjust="spacingAndGlyphs" stroke="#000" stroke-width="0.15" fill="#000" style="white-space:pre">DATE</text>
<text x="618.7" y="502.9" font-family="Liberation Sans" font-size="9.88" textLength="45.8" lengthAdjust="spacingAndGlyphs" stroke="#000" stroke-width="0.15" fill="#000" style="white-space:pre">2016.08.11</text>
<text x="514" y="517.3" font-family="Liberation Sans" font-size="9.88" textLength="21.7" lengthAdjust="spacingAndGlyphs" stroke="#000" stroke-width="0.15" fill="#000" style="white-space:pre">APVD</text>
<text x="539.5" y="517.3" font-family="Liberation Sans" font-size="9.88" textLength="32.2" lengthAdjust="spacingAndGlyphs" stroke="#000" stroke-width="0.15" fill="#000" style="white-space:pre">Y.M.Xiao</text>
<text x="592.7" y="517.3" font-family="Liberation Sans" font-size="9.88" textLength="19" lengthAdjust="spacingAndGlyphs" stroke="#000" stroke-width="0.15" fill="#000" style="white-space:pre">DATE</text>
<text x="618.7" y="517.3" font-family="Liberation Sans" font-size="9.88" textLength="45.8" lengthAdjust="spacingAndGlyphs" stroke="#000" stroke-width="0.15" fill="#000" style="white-space:pre">2016.08.11</text>
<circle cx="643.5" cy="456.3" r="4.2" fill="#888" stroke="#000" stroke-width="1.3"/>
<circle cx="643.5" cy="456.3" r="2.4" fill="#777" stroke="#222" stroke-width="0.8"/>
<line x1="638.3" y1="456.3" x2="639.5" y2="456.3" stroke="#000" stroke-width="0.8" shape-rendering="crispEdges"/>
<line x1="647.5" y1="456.3" x2="648.7" y2="456.3" stroke="#000" stroke-width="0.8" shape-rendering="crispEdges"/>
<line x1="643.5" y1="451.2" x2="643.5" y2="452.2" stroke="#000" stroke-width="0.8" shape-rendering="crispEdges"/>
<line x1="643.5" y1="460.4" x2="643.5" y2="461.4" stroke="#000" stroke-width="0.8" shape-rendering="crispEdges"/>
<polygon points="653.5,454.2 663.2,452.3 663.2,460.2 653.5,458.3" fill="none" stroke="#000" stroke-width="1.1"/>
<line x1="652.2" y1="456.3" x2="665" y2="456.3" stroke="#000" stroke-width="0.9" shape-rendering="crispEdges"/>
<text x="671" y="459.2" font-family="Liberation Serif" font-size="10.08" font-weight="bold" textLength="27.2" lengthAdjust="spacingAndGlyphs" stroke="#000" stroke-width="0.1" fill="#000" style="white-space:pre">MODEL</text>
<text x="704.4" y="459.2" font-family="Liberation Serif" font-size="10.08" font-weight="bold" textLength="24.6" lengthAdjust="spacingAndGlyphs" stroke="#000" stroke-width="0.1" fill="#000" style="white-space:pre">TYPE:</text>
<text x="685.1" y="472.6" font-family="Liberation Serif" font-size="9.47" textLength="23.6" lengthAdjust="spacingAndGlyphs" stroke="#000" stroke-width="0.05" fill="#000" style="white-space:pre">MICRO</text>
<text x="713.3" y="472.6" font-family="Liberation Serif" font-size="9.47" textLength="14.4" lengthAdjust="spacingAndGlyphs" stroke="#000" stroke-width="0.05" fill="#000" style="white-space:pre">USB</text>
<text x="731.7" y="472.6" font-family="Liberation Serif" font-size="9.47" textLength="9.2" lengthAdjust="spacingAndGlyphs" stroke="#000" stroke-width="0.05" fill="#000" style="white-space:pre">AB</text>
<text x="745.5" y="472.6" font-family="Liberation Serif" font-size="9.47" textLength="19.6" lengthAdjust="spacingAndGlyphs" stroke="#000" stroke-width="0.05" fill="#000" style="white-space:pre">TYPE</text>
<text x="671.2" y="488" font-family="Liberation Serif" font-size="9.77" font-weight="bold" textLength="20.4" lengthAdjust="spacingAndGlyphs" stroke="#000" stroke-width="0.1" fill="#000" style="white-space:pre">PART</text>
<text x="698" y="488" font-family="Liberation Serif" font-size="9.77" font-weight="bold" textLength="14" lengthAdjust="spacingAndGlyphs" stroke="#000" stroke-width="0.1" fill="#000" style="white-space:pre">NO:</text>
<text x="696.7" y="499.7" font-family="Liberation Sans" font-size="9.3" textLength="47.8" lengthAdjust="spacingAndGlyphs" stroke="#000" stroke-width="0.15" fill="#000" style="white-space:pre">CUB217−01</text>
<text x="671.8" y="516.9" font-family="Liberation Sans" font-size="8.72" textLength="19.2" lengthAdjust="spacingAndGlyphs" stroke="#000" stroke-width="0.15" fill="#000" style="white-space:pre">DWN.</text>
<text x="697" y="516.9" font-family="Liberation Sans" font-size="8.72" textLength="16.3" lengthAdjust="spacingAndGlyphs" stroke="#000" stroke-width="0.15" fill="#000" style="white-space:pre">NO.:</text>
<text x="719" y="516.9" font-family="Liberation Sans" font-size="8.72" textLength="42.75" lengthAdjust="spacingAndGlyphs" stroke="#000" stroke-width="0.15" fill="#000" style="white-space:pre">RD01−XXX</text>
<text x="539.5" y="539.6" font-family="Liberation Serif" font-size="13.74" textLength="25.5" lengthAdjust="spacingAndGlyphs" stroke="#000" stroke-width="0.25" fill="#000" style="white-space:pre">YONG</text>
<text x="572.5" y="539.6" font-family="Liberation Serif" font-size="13.74" textLength="60.1" lengthAdjust="spacingAndGlyphs" stroke="#000" stroke-width="0.25" fill="#000" style="white-space:pre">CHENGGONG</text>
<text x="640" y="539.6" font-family="Liberation Serif" font-size="13.74" textLength="72" lengthAdjust="spacingAndGlyphs" stroke="#000" stroke-width="0.25" fill="#000" style="white-space:pre">ELECTRONICS</text>
<text x="718" y="539.6" font-family="Liberation Serif" font-size="13.74" textLength="19" lengthAdjust="spacingAndGlyphs" stroke="#000" stroke-width="0.25" fill="#000" style="white-space:pre">CO.</text>
<text x="740.5" y="539.6" font-family="Liberation Serif" font-size="13.74" textLength="2.5" lengthAdjust="spacingAndGlyphs" stroke="#000" stroke-width="0.25" fill="#000" style="white-space:pre">,</text>
<text x="746" y="539.6" font-family="Liberation Serif" font-size="13.74" textLength="23.3" lengthAdjust="spacingAndGlyphs" stroke="#000" stroke-width="0.25" fill="#000" style="white-space:pre">LTD.</text>
<polygon points="499.1,525.4 504.8,525.4 508.6,530.6 504.6,532.6" fill="#000" stroke="#000" stroke-width="0"/>
<polygon points="511.2,525.4 516.2,525.4 509.1,533.8 509.1,541.7 504.9,541.7 504.9,532.2" fill="#000" stroke="#000" stroke-width="0"/>
<path d="M517.6,530.85 A4.55,4.55 0 0 0 517.6,539.95" fill="none" stroke="#000" stroke-width="3.5"/>
<clipPath id="gclip"><rect x="518.9" y="520" width="20" height="30"/></clipPath>
<path d="M530.13,533.99 A4.55,4.55 0 1 0 529.92,537.32" fill="none" stroke="#000" stroke-width="3.5" clip-path="url(#gclip)"/>
<rect x="527" y="534.3" width="6.5" height="2.4" rx="0" fill="#000" stroke="#000" stroke-width="0"/>
<line x1="21.5" y1="500.3" x2="435.5" y2="500.3" stroke="#000" stroke-width="1.6" shape-rendering="crispEdges"/>
<line x1="21.5" y1="511.4" x2="435.5" y2="511.4" stroke="#000" stroke-width="1.3" shape-rendering="crispEdges"/>
<line x1="21.5" y1="522.8" x2="435.5" y2="522.8" stroke="#000" stroke-width="1.3" shape-rendering="crispEdges"/>
<line x1="21.5" y1="534.4" x2="435.5" y2="534.4" stroke="#000" stroke-width="1.3" shape-rendering="crispEdges"/>
<line x1="39.3" y1="500.3" x2="39.3" y2="548" stroke="#000" stroke-width="1.3" shape-rendering="crispEdges"/>
<line x1="125.8" y1="500.3" x2="125.8" y2="548" stroke="#000" stroke-width="1.3" shape-rendering="crispEdges"/>
<line x1="167.2" y1="500.3" x2="167.2" y2="548" stroke="#000" stroke-width="1.3" shape-rendering="crispEdges"/>
<line x1="186.1" y1="500.3" x2="186.1" y2="548" stroke="#000" stroke-width="1.3" shape-rendering="crispEdges"/>
<line x1="337" y1="500.3" x2="337" y2="548" stroke="#000" stroke-width="1.3" shape-rendering="crispEdges"/>
<text x="30.3" y="508.3" font-family="Liberation Sans" font-size="7.85" text-anchor="middle" stroke="#000" stroke-width="0.35" fill="#000" style="white-space:pre">3</text>
<text x="41.7" y="508.3" font-family="Liberation Sans" font-size="7.85" font-weight="bold" textLength="19.6" lengthAdjust="spacingAndGlyphs" stroke="#000" stroke-width="0.3" fill="#000" style="white-space:pre">SHELL</text>
<text x="176.6" y="508.3" font-family="Liberation Sans" font-size="7.85" text-anchor="middle" stroke="#000" stroke-width="0.3" fill="#000" style="white-space:pre">1</text>
<text x="188.6" y="508.3" font-family="Liberation Sans" font-size="7.85" textLength="60.4" lengthAdjust="spacingAndGlyphs" stroke="#000" stroke-width="0.3" fill="#000" style="white-space:pre">BRASS  T=0.25mm</text>
<text x="340.7" y="508.3" font-family="Liberation Sans" font-size="7.85" textLength="33" lengthAdjust="spacingAndGlyphs" stroke="#000" stroke-width="0.3" fill="#000" style="white-space:pre">Sn−Plated</text>
<text x="30.3" y="519.7" font-family="Liberation Sans" font-size="7.85" text-anchor="middle" stroke="#000" stroke-width="0.35" fill="#000" style="white-space:pre">2</text>
<text x="41.7" y="519.7" font-family="Liberation Sans" font-size="7.85" font-weight="bold" textLength="27.8" lengthAdjust="spacingAndGlyphs" stroke="#000" stroke-width="0.3" fill="#000" style="white-space:pre">CONTACT</text>
<text x="176.6" y="519.7" font-family="Liberation Sans" font-size="7.85" text-anchor="middle" stroke="#000" stroke-width="0.3" fill="#000" style="white-space:pre">1</text>
<text x="188.6" y="519.7" font-family="Liberation Sans" font-size="7.85" textLength="60.4" lengthAdjust="spacingAndGlyphs" stroke="#000" stroke-width="0.3" fill="#000" style="white-space:pre">BRASS  T=0.20mm</text>
<text x="340.7" y="519.7" font-family="Liberation Sans" font-size="7.85" textLength="49.3" lengthAdjust="spacingAndGlyphs" stroke="#000" stroke-width="0.3" fill="#000" style="white-space:pre">Au(G.F)−Plated</text>
<text x="30.3" y="531.1" font-family="Liberation Sans" font-size="7.85" text-anchor="middle" stroke="#000" stroke-width="0.35" fill="#000" style="white-space:pre">1</text>
<text x="41.7" y="531.1" font-family="Liberation Sans" font-size="7.85" font-weight="bold" textLength="28.1" lengthAdjust="spacingAndGlyphs" stroke="#000" stroke-width="0.3" fill="#000" style="white-space:pre">HOUSING</text>
<text x="176.6" y="531.1" font-family="Liberation Sans" font-size="7.85" text-anchor="middle" stroke="#000" stroke-width="0.3" fill="#000" style="white-space:pre">1</text>
<text x="188.6" y="531.1" font-family="Liberation Sans" font-size="7.85" textLength="44.4" lengthAdjust="spacingAndGlyphs" stroke="#000" stroke-width="0.3" fill="#000" style="white-space:pre">LCP  UI94V−0</text>
<text x="340.7" y="531.1" font-family="Liberation Sans" font-size="7.85" textLength="20" lengthAdjust="spacingAndGlyphs" stroke="#000" stroke-width="0.3" fill="#000" style="white-space:pre">BLACK</text>
<text x="26.2" y="544.1" font-family="Liberation Sans" font-size="8.14" font-weight="bold" textLength="11" lengthAdjust="spacingAndGlyphs" stroke="#000" stroke-width="0.3" fill="#000" style="white-space:pre">NO.</text>
<text x="62" y="544.1" font-family="Liberation Sans" font-size="8.14" font-weight="bold" textLength="37.1" lengthAdjust="spacingAndGlyphs" stroke="#000" stroke-width="0.3" fill="#000" style="white-space:pre">PART  NAME</text>
<text x="135" y="543.8" font-family="Liberation Sans" font-size="8.14" font-weight="bold" textLength="25" lengthAdjust="spacingAndGlyphs" stroke="#000" stroke-width="0.3" fill="#000" style="white-space:pre">TER'NO.</text>
<text x="169" y="543.8" font-family="Liberation Sans" font-size="8.14" font-weight="bold" textLength="14" lengthAdjust="spacingAndGlyphs" stroke="#000" stroke-width="0.3" fill="#000" style="white-space:pre">Q'TY</text>
<text x="248.3" y="543.8" font-family="Liberation Sans" font-size="8.14" font-weight="bold" textLength="28.7" lengthAdjust="spacingAndGlyphs" stroke="#000" stroke-width="0.3" fill="#000" style="white-space:pre">MATERIAL</text>
<text x="354.5" y="543.8" font-family="Liberation Sans" font-size="8.14" font-weight="bold" textLength="60.5" lengthAdjust="spacingAndGlyphs" stroke="#000" stroke-width="0.3" fill="#000" style="white-space:pre">PLATING  &amp;  COLOR</text>
<line x1="148.5" y1="99.3" x2="148.5" y2="150.3" stroke="#000" stroke-width="0.7" shape-rendering="crispEdges"/>
<rect x="116.3" y="106.4" width="64.4" height="3.8" rx="1.6" fill="none" stroke="#000" stroke-width="1.0"/>
<path d="M181.6,110.4 L193.5,121.9 L193.5,134 Q193.5,139.4 188,139.4" fill="none" stroke="#000" stroke-width="1.0"/>
<path d="M178.6,111.2 L190.6,123.3 L190.6,132.6 Q190.6,136.2 187,136.2" fill="none" stroke="#000" stroke-width="1.0"/>
<path d="M179.6,110.6 L172.6,115.4 Q170.9,116.8 172.4,118.3 Q173.4,119.1 174.6,118.3 L182.2,112.8" fill="none" stroke="#000" stroke-width="1.1"/>
<polyline points="167,110.5 167,118.8 172.5,118.8" fill="none" stroke="#000" stroke-width="1.0"/>
<rect x="193.5" y="125" width="24" height="3.3" rx="0.8" fill="none" stroke="#000" stroke-width="1.0"/>
<rect x="193.5" y="127.8" width="4.8" height="6.4" rx="1.2" fill="none" stroke="#000" stroke-width="1.0"/>
<rect x="174" y="139.8" width="6.7" height="3" rx="0" fill="none" stroke="#000" stroke-width="1.0"/>
<path d="M115.4,110.4 L103.5,121.9 L103.5,134 Q103.5,139.4 109,139.4" fill="none" stroke="#000" stroke-width="1.0"/>
<path d="M118.4,111.2 L106.4,123.3 L106.4,132.6 Q106.4,136.2 110,136.2" fill="none" stroke="#000" stroke-width="1.0"/>
<path d="M117.4,110.6 L124.4,115.4 Q126.1,116.8 124.6,118.3 Q123.6,119.1 122.4,118.3 L114.8,112.8" fill="none" stroke="#000" stroke-width="1.1"/>
<polyline points="130,110.5 130,118.8 124.5,118.8" fill="none" stroke="#000" stroke-width="1.0"/>
<rect x="79.5" y="125" width="24" height="3.3" rx="0.8" fill="none" stroke="#000" stroke-width="1.0"/>
<rect x="98.7" y="127.8" width="4.8" height="6.4" rx="1.2" fill="none" stroke="#000" stroke-width="1.0"/>
<rect x="116.3" y="139.8" width="6.7" height="3" rx="0" fill="none" stroke="#000" stroke-width="1.0"/>
<line x1="108" y1="139.4" x2="189" y2="139.4" stroke="#000" stroke-width="1.0" shape-rendering="crispEdges"/>
<line x1="110" y1="136.2" x2="187" y2="136.2" stroke="#000" stroke-width="1.0" shape-rendering="crispEdges"/>
<line x1="116" y1="142.8" x2="181" y2="142.8" stroke="#000" stroke-width="1.0" shape-rendering="crispEdges"/>
<rect x="139.4" y="110.2" width="18" height="3.2" rx="0" fill="none" stroke="#000" stroke-width="1.0"/>
<line x1="116.3" y1="110.4" x2="180.7" y2="110.4" stroke="#000" stroke-width="1.0" shape-rendering="crispEdges"/>
<polyline points="127.2,136.2 127.2,124.6 190.6,124.6" fill="none" stroke="#000" stroke-width="1.0"/>
<line x1="169.6" y1="124.6" x2="169.6" y2="136.2" stroke="#000" stroke-width="1.0" shape-rendering="crispEdges"/>
<circle cx="132.4" cy="125.9" r="1.5" fill="#555" stroke="#000" stroke-width="0.7"/>
<line x1="132.4" y1="127.2" x2="132.4" y2="129.2" stroke="#000" stroke-width="0.8" shape-rendering="crispEdges"/>
<circle cx="140.4" cy="125.9" r="1.5" fill="#555" stroke="#000" stroke-width="0.7"/>
<line x1="140.4" y1="127.2" x2="140.4" y2="129.2" stroke="#000" stroke-width="0.8" shape-rendering="crispEdges"/>
<circle cx="148.4" cy="125.9" r="1.5" fill="#555" stroke="#000" stroke-width="0.7"/>
<line x1="148.4" y1="127.2" x2="148.4" y2="129.2" stroke="#000" stroke-width="0.8" shape-rendering="crispEdges"/>
<circle cx="156.4" cy="125.9" r="1.5" fill="#555" stroke="#000" stroke-width="0.7"/>
<line x1="156.4" y1="127.2" x2="156.4" y2="129.2" stroke="#000" stroke-width="0.8" shape-rendering="crispEdges"/>
<circle cx="164.1" cy="125.9" r="1.5" fill="#555" stroke="#000" stroke-width="0.7"/>
<line x1="164.1" y1="127.2" x2="164.1" y2="129.2" stroke="#000" stroke-width="0.8" shape-rendering="crispEdges"/>
<line x1="217.5" y1="124.6" x2="222.2" y2="124.6" stroke="#000" stroke-width="0.9" shape-rendering="crispEdges"/>
<rect x="222.2" y="116.3" width="34.7" height="9.3" rx="0" fill="none" stroke="#000" stroke-width="1.2"/>
<line x1="237.4" y1="116.3" x2="237.4" y2="125.6" stroke="#000" stroke-width="1.1" shape-rendering="crispEdges"/>
<polygon points="224.8,123.4 228.3,118.6 235.2,118.6 231.8,123.4" fill="none" stroke="#000" stroke-width="1.2"/>
<text x="239.6" y="124.1" font-family="Liberation Sans" font-size="8.72" textLength="15.7" lengthAdjust="spacingAndGlyphs" stroke="#000" stroke-width="0.2" fill="#000" style="white-space:pre">0.05</text>
<polyline points="102.5,202 112.2,202 122,211 176,211 184.2,202 194,202" fill="none" stroke="#000" stroke-width="1.0"/>
<path d="M102.5,202 L78.3,202 L78.3,205.03 A3.03,3.03 0 0 0 81.33,208.07 A3.03,3.03 0 0 1 81.33,214.13 A3.03,3.03 0 0 0 81.33,220.2 L102.5,220.2" fill="none" stroke="#000" stroke-width="1.0"/>
<path d="M194,202 L219.3,202 L219.3,205.03 A3.03,3.03 0 0 1 216.27,208.07 A3.03,3.03 0 0 0 216.27,214.13 A3.03,3.03 0 0 1 216.27,220.2 L194,220.2" fill="none" stroke="#000" stroke-width="1.0"/>
<path d="M102.5,253 L78.3,253 L78.3,256.08 A3.08,3.08 0 0 0 81.38,259.17 A3.08,3.08 0 0 1 81.38,265.33 A3.08,3.08 0 0 0 81.38,271.5 L102.5,271.5" fill="none" stroke="#000" stroke-width="1.0"/>
<path d="M193.5,253 L219.3,253 L219.3,256.08 A3.08,3.08 0 0 1 216.22,259.17 A3.08,3.08 0 0 0 216.22,265.33 A3.08,3.08 0 0 1 216.22,271.5 L193.5,271.5" fill="none" stroke="#000" stroke-width="1.0"/>
<line x1="102.5" y1="202" x2="102.5" y2="286.2" stroke="#000" stroke-width="1.6" shape-rendering="crispEdges"/>
<line x1="108.1" y1="202" x2="108.1" y2="286.2" stroke="#000" stroke-width="1.0" shape-rendering="crispEdges"/>
<line x1="188.6" y1="202" x2="188.6" y2="286.2" stroke="#000" stroke-width="1.0" shape-rendering="crispEdges"/>
<line x1="194" y1="202" x2="194" y2="286.2" stroke="#000" stroke-width="1.6" shape-rendering="crispEdges"/>
<line x1="72" y1="286.2" x2="194" y2="286.2" stroke="#000" stroke-width="1.0" shape-rendering="crispEdges"/>
<line x1="108.1" y1="288.3" x2="188.6" y2="288.3" stroke="#000" stroke-width="1.6" shape-rendering="crispEdges"/>
<path d="M110,288.3 L110,291 Q110,293.7 113,293.7 L184,293.7 Q187,293.7 187,291 L187,288.3" fill="none" stroke="#000" stroke-width="1.0"/>
<line x1="56" y1="293.7" x2="100" y2="293.7" stroke="#000" stroke-width="1.0" shape-rendering="crispEdges"/>
<polyline points="102.5,286.5 105,288 101.5,293.7 99,292.2 102.5,286.5" fill="none" stroke="#000" stroke-width="1.0"/>
<polyline points="194,286.5 191.5,288 195,293.7 197.5,292.2 194,286.5" fill="none" stroke="#000" stroke-width="1.0"/>
<path d="M116.8,257.3 L121.8,257.3 Q124.6,257.3 124.6,260.2 L124.6,267 Q124.6,268.6 125.3,269.6 L125.3,272.4 Q125.3,274.6 123.1,274.6 L115.5,274.6 Q113.3,274.6 113.3,272.4 L113.3,269.6 Q114,268.6 114,267 L114,260.2 Q114,257.3 116.8,257.3 Z" fill="none" stroke="#000" stroke-width="1.0"/>
<line x1="113.8" y1="274.4" x2="124.8" y2="274.4" stroke="#000" stroke-width="1.6" shape-rendering="crispEdges"/>
<rect x="115.3" y="274.6" width="8" height="5.4" rx="0" fill="none" stroke="#000" stroke-width="1.0"/>
<line x1="115.3" y1="277.2" x2="123.3" y2="277.2" stroke="#000" stroke-width="0.9" shape-rendering="crispEdges"/>
<line x1="119.3" y1="254" x2="119.3" y2="309.3" stroke="#000" stroke-width="0.7" shape-rendering="crispEdges"/>
<path d="M174.9,257.3 L179.9,257.3 Q182.7,257.3 182.7,260.2 L182.7,267 Q182.7,268.6 183.4,269.6 L183.4,272.4 Q183.4,274.6 181.2,274.6 L173.6,274.6 Q171.4,274.6 171.4,272.4 L171.4,269.6 Q172.1,268.6 172.1,267 L172.1,260.2 Q172.1,257.3 174.9,257.3 Z" fill="none" stroke="#000" stroke-width="1.0"/>
<line x1="171.9" y1="274.4" x2="182.9" y2="274.4" stroke="#000" stroke-width="1.6" shape-rendering="crispEdges"/>
<rect x="173.4" y="274.6" width="8" height="5.4" rx="0" fill="none" stroke="#000" stroke-width="1.0"/>
<line x1="173.4" y1="277.2" x2="181.4" y2="277.2" stroke="#000" stroke-width="0.9" shape-rendering="crispEdges"/>
<line x1="177.4" y1="254" x2="177.4" y2="309.3" stroke="#000" stroke-width="0.7" shape-rendering="crispEdges"/>
<rect x="130.3" y="200.2" width="4.4" height="10.8" rx="0" fill="#a0a0a0" stroke="#000" stroke-width="0.9"/>
<line x1="132.5" y1="195.5" x2="132.5" y2="200.2" stroke="#000" stroke-width="0.7" shape-rendering="crispEdges"/>
<rect x="138.1" y="200.2" width="4.4" height="10.8" rx="0" fill="#a0a0a0" stroke="#000" stroke-width="0.9"/>
<line x1="140.3" y1="195.5" x2="140.3" y2="200.2" stroke="#000" stroke-width="0.7" shape-rendering="crispEdges"/>
<rect x="146" y="200.2" width="4.4" height="10.8" rx="0" fill="#a0a0a0" stroke="#000" stroke-width="0.9"/>
<line x1="148.2" y1="195.5" x2="148.2" y2="200.2" stroke="#000" stroke-width="0.7" shape-rendering="crispEdges"/>
<rect x="154" y="200.2" width="4.4" height="10.8" rx="0" fill="#a0a0a0" stroke="#000" stroke-width="0.9"/>
<line x1="156.2" y1="195.5" x2="156.2" y2="200.2" stroke="#000" stroke-width="0.7" shape-rendering="crispEdges"/>
<rect x="162.1" y="200.2" width="4.4" height="10.8" rx="0" fill="#a0a0a0" stroke="#000" stroke-width="0.9"/>
<line x1="164.3" y1="195.5" x2="164.3" y2="200.2" stroke="#000" stroke-width="0.7" shape-rendering="crispEdges"/>
<line x1="148.3" y1="217.2" x2="148.3" y2="243.5" stroke="#000" stroke-width="0.7" shape-rendering="crispEdges"/>
<line x1="148.3" y1="247" x2="148.3" y2="250" stroke="#000" stroke-width="0.7" shape-rendering="crispEdges"/>
<line x1="148.3" y1="253" x2="148.3" y2="286" stroke="#000" stroke-width="0.7" shape-rendering="crispEdges"/>
<line x1="78.3" y1="187.2" x2="219.1" y2="187.2" stroke="#000" stroke-width="0.8" shape-rendering="crispEdges"/>
<polygon points="78.3,187.2 81.5,186.1 81.5,188.3" fill="#000"/>
<polygon points="219.1,187.2 215.9,188.3 215.9,186.1" fill="#000"/>
<line x1="78.3" y1="185.6" x2="78.3" y2="202" stroke="#000" stroke-width="0.8" shape-rendering="crispEdges"/>
<line x1="219.1" y1="185.6" x2="219.1" y2="202" stroke="#000" stroke-width="0.8" shape-rendering="crispEdges"/>
<text x="127.4" y="186.7" font-family="Liberation Sans" font-size="6.4" textLength="32.6" lengthAdjust="spacingAndGlyphs" stroke="#000" stroke-width="0.2" fill="#000" style="white-space:pre">11.50±0.25</text>
<line x1="58.2" y1="202" x2="58.2" y2="293.7" stroke="#000" stroke-width="0.8" shape-rendering="crispEdges"/>
<polygon points="58.2,202 59.3,205.2 57.1,205.2" fill="#000"/>
<polygon points="58.2,293.7 57.1,290.5 59.3,290.5" fill="#000"/>
<line x1="56.4" y1="202" x2="78.3" y2="202" stroke="#000" stroke-width="0.8" shape-rendering="crispEdges"/>
<text x="0" y="0" font-family="Liberation Sans" font-size="6.4" textLength="28.7" lengthAdjust="spacingAndGlyphs" text-anchor="middle" stroke="#000" stroke-width="0.2" style="white-space:pre" transform="translate(57.3 248.5) rotate(-90)">7.50±0.25</text>
<line x1="72.4" y1="202" x2="72.4" y2="286.2" stroke="#000" stroke-width="0.8" shape-rendering="crispEdges"/>
<polygon points="72.4,202 73.5,205.2 71.3,205.2" fill="#000"/>
<polygon points="72.4,286.2 71.3,283 73.5,283" fill="#000"/>
<text x="0" y="0" font-family="Liberation Sans" font-size="6.4" textLength="28.3" lengthAdjust="spacingAndGlyphs" text-anchor="middle" stroke="#000" stroke-width="0.2" style="white-space:pre" transform="translate(71.95 244.8) rotate(-90)">6.90±0.10</text>
<line x1="231.5" y1="202" x2="231.5" y2="220.3" stroke="#000" stroke-width="0.8" shape-rendering="crispEdges"/>
<polygon points="231.5,202 232.6,205.2 230.4,205.2" fill="#000"/>
<polygon points="231.5,220.3 230.4,217.1 232.6,217.1" fill="#000"/>
<line x1="219.3" y1="202" x2="233" y2="202" stroke="#000" stroke-width="0.8" shape-rendering="crispEdges"/>
<line x1="219.3" y1="220.3" x2="233" y2="220.3" stroke="#000" stroke-width="0.8" shape-rendering="crispEdges"/>
<line x1="231.5" y1="220.3" x2="231.5" y2="257.5" stroke="#000" stroke-width="0.8" shape-rendering="crispEdges"/>
<text x="0" y="0" font-family="Liberation Sans" font-size="6.4" textLength="30.6" lengthAdjust="spacingAndGlyphs" text-anchor="middle" stroke="#000" stroke-width="0.2" style="white-space:pre" transform="translate(231 240.9) rotate(-90)">4*1.5±0.05</text>
<line x1="119.3" y1="307.7" x2="177.4" y2="307.7" stroke="#000" stroke-width="0.8" shape-rendering="crispEdges"/>
<polygon points="119.3,307.7 122.5,306.6 122.5,308.8" fill="#000"/>
<polygon points="177.4,307.7 174.2,308.8 174.2,306.6" fill="#000"/>
<text x="133.5" y="306.7" font-family="Liberation Sans" font-size="6.1" textLength="29" lengthAdjust="spacingAndGlyphs" stroke="#000" stroke-width="0.2" fill="#000" style="white-space:pre">4.75±0.05</text>
<line x1="99" y1="321.2" x2="197.5" y2="321.2" stroke="#000" stroke-width="0.8" shape-rendering="crispEdges"/>
<polygon points="99,321.2 102.2,320.1 102.2,322.3" fill="#000"/>
<polygon points="197.5,321.2 194.3,322.3 194.3,320.1" fill="#000"/>
<line x1="99" y1="294" x2="99" y2="322.5" stroke="#000" stroke-width="0.8" shape-rendering="crispEdges"/>
<line x1="197.5" y1="294" x2="197.5" y2="322.5" stroke="#000" stroke-width="0.8" shape-rendering="crispEdges"/>
<text x="134" y="320.5" font-family="Liberation Sans" font-size="6.25" textLength="29" lengthAdjust="spacingAndGlyphs" stroke="#000" stroke-width="0.2" fill="#000" style="white-space:pre">8.00±0.25</text>
<line x1="262.2" y1="202" x2="262.2" y2="286.4" stroke="#000" stroke-width="1.0" shape-rendering="crispEdges"/>
<line x1="267.2" y1="202" x2="267.2" y2="286.4" stroke="#000" stroke-width="1.0" shape-rendering="crispEdges"/>
<line x1="262.2" y1="202" x2="275.5" y2="202" stroke="#000" stroke-width="1.0" shape-rendering="crispEdges"/>
<rect x="275.2" y="200.3" width="3.3" height="23.4" rx="1" fill="none" stroke="#000" stroke-width="1.0"/>
<line x1="275.2" y1="205" x2="278.5" y2="205" stroke="#fff" stroke-width="0.6" shape-rendering="crispEdges"/>
<line x1="275.2" y1="209.5" x2="278.5" y2="209.5" stroke="#fff" stroke-width="0.6" shape-rendering="crispEdges"/>
<line x1="275.2" y1="214" x2="278.5" y2="214" stroke="#fff" stroke-width="0.6" shape-rendering="crispEdges"/>
<line x1="275.2" y1="218.5" x2="278.5" y2="218.5" stroke="#fff" stroke-width="0.6" shape-rendering="crispEdges"/>
<path d="M278.5,220.5 L272.5,220.5 Q271,220.5 271,222.1 Q271,223.7 272.5,223.7 L290.6,223.7" fill="none" stroke="#000" stroke-width="1.0"/>
<line x1="280.2" y1="223.7" x2="280.2" y2="286.4" stroke="#000" stroke-width="1.0" shape-rendering="crispEdges"/>
<line x1="282.8" y1="223.7" x2="282.8" y2="286.4" stroke="#000" stroke-width="1.0" shape-rendering="crispEdges"/>
<line x1="290.2" y1="223.7" x2="290.2" y2="286.4" stroke="#000" stroke-width="1.5" shape-rendering="crispEdges"/>
<rect x="275.8" y="249.9" width="14.4" height="24.2" rx="0" fill="#fff" stroke="#000" stroke-width="1.0"/>
<path d="M276,250 L272.8,250 Q271,250 271,252 Q271,254 272.8,254 L276,254" fill="none" stroke="#000" stroke-width="1.0"/>
<path d="M276,271 L272.8,271 Q271,271 271,273 Q271,275 272.8,275 L276,275" fill="none" stroke="#000" stroke-width="1.0"/>
<line x1="275.8" y1="255.5" x2="275.8" y2="258.5" stroke="#000" stroke-width="1.6" shape-rendering="crispEdges"/>
<line x1="275.8" y1="261" x2="275.8" y2="264" stroke="#000" stroke-width="1.6" shape-rendering="crispEdges"/>
<line x1="275.8" y1="266.5" x2="275.8" y2="269.5" stroke="#000" stroke-width="1.6" shape-rendering="crispEdges"/>
<line x1="262.2" y1="286.4" x2="290.6" y2="286.4" stroke="#000" stroke-width="1.0" shape-rendering="crispEdges"/>
<polygon points="262.2,286.8 258.4,291.6 260.6,293.6 264.8,288.6" fill="none" stroke="#000" stroke-width="1.0"/>
<polygon points="290.4,286.8 294.2,291.6 292,293.6 287.8,288.6" fill="none" stroke="#000" stroke-width="1.0"/>
<path d="M269.5,286.4 L269.5,291 Q269.5,293.8 272.5,293.8 L276.3,293.8 Q279.2,293.8 279.2,291 L279.2,286.4" fill="none" stroke="#000" stroke-width="1.0"/>
<line x1="270" y1="292.3" x2="278.7" y2="292.3" stroke="#000" stroke-width="1.4" shape-rendering="crispEdges"/>
<ellipse cx="261" cy="276.5" rx="1.3" ry="2" fill="none" stroke="#000" stroke-width="0.8"/>
<line x1="259.3" y1="305.1" x2="295.3" y2="305.1" stroke="#000" stroke-width="0.8" shape-rendering="crispEdges"/>
<polygon points="259.3,305.1 262.5,304 262.5,306.2" fill="#000"/>
<polygon points="295.3,305.1 292.1,306.2 292.1,304" fill="#000"/>
<line x1="259.3" y1="293.5" x2="259.3" y2="306.6" stroke="#000" stroke-width="0.8" shape-rendering="crispEdges"/>
<line x1="295.3" y1="293.5" x2="295.3" y2="306.6" stroke="#000" stroke-width="0.8" shape-rendering="crispEdges"/>
<text x="264.3" y="304.2" font-family="Liberation Sans" font-size="6.1" textLength="28.5" lengthAdjust="spacingAndGlyphs" stroke="#000" stroke-width="0.2" fill="#000" style="white-space:pre">3.00±0.25</text>
<line x1="303.9" y1="224" x2="303.9" y2="285.8" stroke="#000" stroke-width="0.8" shape-rendering="crispEdges"/>
<polygon points="303.9,224 305,227.2 302.8,227.2" fill="#000"/>
<polygon points="303.9,285.8 302.8,282.6 305,282.6" fill="#000"/>
<line x1="290.6" y1="224" x2="305.5" y2="224" stroke="#000" stroke-width="0.8" shape-rendering="crispEdges"/>
<line x1="290.6" y1="285.8" x2="305.5" y2="285.8" stroke="#000" stroke-width="0.8" shape-rendering="crispEdges"/>
<text x="0" y="0" font-family="Liberation Sans" font-size="5.81" textLength="12.4" lengthAdjust="spacingAndGlyphs" text-anchor="middle" stroke="#000" stroke-width="0.2" style="white-space:pre" transform="translate(302.85 254.9) rotate(-90)">5.10</text>
<path d="M373,201.6 L351.7,201.6 A3.1,3.1 0 0 0 351.7,207.8 A3.1,3.1 0 0 1 351.7,214 A3.1,3.1 0 0 0 351.7,220.2 L373,220.2" fill="none" stroke="#000" stroke-width="1.0"/>
<path d="M463.8,201.9 L484.93,201.9 A3.07,3.07 0 0 1 484.93,208.03 A3.07,3.07 0 0 0 484.93,214.17 A3.07,3.07 0 0 1 484.93,220.3 L463.8,220.3" fill="none" stroke="#000" stroke-width="1.0"/>
<path d="M373,252.9 L351.7,252.9 A3.1,3.1 0 0 0 351.7,259.1 A3.1,3.1 0 0 1 351.7,265.3 A3.1,3.1 0 0 0 351.7,271.5 L373,271.5" fill="none" stroke="#000" stroke-width="1.0"/>
<path d="M463.8,253.1 L484.98,253.1 A3.02,3.02 0 0 1 484.98,259.13 A3.02,3.02 0 0 0 484.98,265.17 A3.02,3.02 0 0 1 484.98,271.2 L463.8,271.2" fill="none" stroke="#000" stroke-width="1.0"/>
<polyline points="373,201.7 382.4,201.7 392.7,211.2 400,211.2" fill="none" stroke="#000" stroke-width="1.0"/>
<polyline points="437.2,211.2 444.8,211.2 454.6,201.9 463.8,201.9" fill="none" stroke="#000" stroke-width="1.0"/>
<line x1="372.8" y1="201.7" x2="372.8" y2="286.2" stroke="#000" stroke-width="1.8" shape-rendering="crispEdges"/>
<line x1="463.5" y1="201.9" x2="463.5" y2="286.2" stroke="#000" stroke-width="1.8" shape-rendering="crispEdges"/>
<line x1="372.8" y1="224" x2="463.5" y2="224" stroke="#000" stroke-width="1.0" shape-rendering="crispEdges"/>
<line x1="382.5" y1="224" x2="382.5" y2="286.2" stroke="#000" stroke-width="1.0" shape-rendering="crispEdges"/>
<line x1="385.5" y1="224" x2="385.5" y2="286.2" stroke="#000" stroke-width="1.0" shape-rendering="crispEdges"/>
<line x1="451.5" y1="224" x2="451.5" y2="286.2" stroke="#000" stroke-width="1.0" shape-rendering="crispEdges"/>
<line x1="454.5" y1="224" x2="454.5" y2="286.2" stroke="#000" stroke-width="1.0" shape-rendering="crispEdges"/>
<line x1="396.5" y1="211.2" x2="396.5" y2="224" stroke="#000" stroke-width="1.0" shape-rendering="crispEdges"/>
<line x1="440.7" y1="211.2" x2="440.7" y2="224" stroke="#000" stroke-width="1.0" shape-rendering="crispEdges"/>
<line x1="392.7" y1="211.2" x2="444.8" y2="211.2" stroke="#000" stroke-width="1.0" shape-rendering="crispEdges"/>
<rect x="400.2" y="199.4" width="3.4" height="23.6" rx="1" fill="#b4b4b4" stroke="#000" stroke-width="0.9"/>
<rect x="400.7" y="205.6" width="2.4" height="1.6" fill="#fff"/>
<rect x="408.3" y="199.4" width="3.4" height="23.6" rx="1" fill="#b4b4b4" stroke="#000" stroke-width="0.9"/>
<rect x="408.8" y="205.6" width="2.4" height="1.6" fill="#fff"/>
<rect x="416.4" y="199.4" width="3.4" height="23.6" rx="1" fill="#b4b4b4" stroke="#000" stroke-width="0.9"/>
<rect x="416.9" y="205.6" width="2.4" height="1.6" fill="#fff"/>
<rect x="423.9" y="199.4" width="3.4" height="23.6" rx="1" fill="#b4b4b4" stroke="#000" stroke-width="0.9"/>
<rect x="424.4" y="205.6" width="2.4" height="1.6" fill="#fff"/>
<rect x="432.1" y="199.4" width="3.4" height="23.6" rx="1" fill="#b4b4b4" stroke="#000" stroke-width="0.9"/>
<rect x="432.6" y="205.6" width="2.4" height="1.6" fill="#fff"/>
<path d="M385.5,224 L385.5,231.5 Q385.5,233.6 387.5,233.6 L409.5,233.6 L409.5,224" fill="none" stroke="#000" stroke-width="1.0"/>
<line x1="392.5" y1="224" x2="392.5" y2="231" stroke="#000" stroke-width="1.0" shape-rendering="crispEdges"/>
<rect x="375.8" y="249.6" width="16.5" height="25.6" rx="1.5" fill="#fff" stroke="#000" stroke-width="1.0"/>
<rect x="373.7" y="251" width="2.1" height="23" rx="0" fill="#fff" stroke="#000" stroke-width="1.0"/>
<path d="M451.7,224 L451.7,231.5 Q451.7,233.6 449.7,233.6 L427.7,233.6 L427.7,224" fill="none" stroke="#000" stroke-width="1.0"/>
<line x1="444.7" y1="224" x2="444.7" y2="231" stroke="#000" stroke-width="1.0" shape-rendering="crispEdges"/>
<rect x="444.9" y="249.6" width="16.5" height="25.6" rx="1.5" fill="#fff" stroke="#000" stroke-width="1.0"/>
<rect x="461.4" y="251" width="2.1" height="23" rx="0" fill="#fff" stroke="#000" stroke-width="1.0"/>
<line x1="418.6" y1="188" x2="418.6" y2="296.3" stroke="#000" stroke-width="0.7" shape-rendering="crispEdges"/>
<rect x="404.7" y="246.2" width="14.5" height="6.8" rx="1" fill="none" stroke="#000" stroke-width="1.2"/>
<rect x="404.7" y="270.3" width="14.5" height="7.4" rx="1" fill="none" stroke="#000" stroke-width="1.2"/>
<line x1="405.2" y1="252.6" x2="405.2" y2="270.7" stroke="#000" stroke-width="1.0" shape-rendering="crispEdges"/>
<path d="M405.6,250.6 C408,247 410.5,247.5 413,249 C415,250.3 417,251.3 419,251.3" fill="none" stroke="#000" stroke-width="0.9"/>
<path d="M405.6,275.3 C408,271.5 410.5,272 413,273.5 C415,274.8 417,275.8 419,275.8" fill="none" stroke="#000" stroke-width="0.9"/>
<line x1="346" y1="286.2" x2="505" y2="286.2" stroke="#000" stroke-width="1.3" shape-rendering="crispEdges"/>
<path d="M380.3,286.2 L380.3,290.5 Q380.3,294 384,294 L451.9,294 Q455.6,294 455.6,290.5 L455.6,286.2" fill="none" stroke="#000" stroke-width="1.0"/>
<line x1="383" y1="289" x2="453" y2="289" stroke="#000" stroke-width="0.9" shape-rendering="crispEdges"/>
<polyline points="373.5,287 369.6,292 371.3,293.5 375.5,288.6" fill="none" stroke="#000" stroke-width="1.0"/>
<polyline points="463.6,287 467.6,292 465.9,293.5 461.6,288.6" fill="none" stroke="#000" stroke-width="1.0"/>
<line x1="401.8" y1="183.3" x2="434.1" y2="183.3" stroke="#000" stroke-width="0.8" shape-rendering="crispEdges"/>
<polygon points="401.8,183.3 405,182.2 405,184.4" fill="#000"/>
<polygon points="434.1,183.3 430.9,184.4 430.9,182.2" fill="#000"/>
<line x1="401.8" y1="181.2" x2="401.8" y2="199" stroke="#000" stroke-width="0.7" shape-rendering="crispEdges"/>
<line x1="434.1" y1="181.2" x2="434.1" y2="199" stroke="#000" stroke-width="0.7" shape-rendering="crispEdges"/>
<text x="411" y="182.6" font-family="Liberation Sans" font-size="6.54" textLength="12.4" lengthAdjust="spacingAndGlyphs" stroke="#000" stroke-width="0.2" fill="#000" style="white-space:pre">2.80</text>
<line x1="380" y1="193.8" x2="399" y2="193.8" stroke="#000" stroke-width="0.8" shape-rendering="crispEdges"/>
<polygon points="401.4,193.8 398.2,194.9 398.2,192.7" fill="#000"/>
<text x="381.7" y="192.5" font-family="Liberation Sans" font-size="6.4" textLength="11.9" lengthAdjust="spacingAndGlyphs" stroke="#000" stroke-width="0.2" fill="#000" style="white-space:pre">0.65</text>
<line x1="437" y1="193.8" x2="457.1" y2="193.8" stroke="#000" stroke-width="0.8" shape-rendering="crispEdges"/>
<polygon points="434.6,193.8 437.8,192.7 437.8,194.9" fill="#000"/>
<text x="443.6" y="192.5" font-family="Liberation Sans" font-size="6.4" textLength="12.4" lengthAdjust="spacingAndGlyphs" stroke="#000" stroke-width="0.2" fill="#000" style="white-space:pre">0.25</text>
<line x1="436" y1="191" x2="436" y2="199" stroke="#000" stroke-width="0.7" shape-rendering="crispEdges"/>
<line x1="410" y1="191.5" x2="410" y2="199" stroke="#000" stroke-width="0.7" shape-rendering="crispEdges"/>
<line x1="410" y1="193.5" x2="413.5" y2="193.5" stroke="#000" stroke-width="0.7" shape-rendering="crispEdges"/>
<line x1="426" y1="191.5" x2="426" y2="199" stroke="#000" stroke-width="0.7" shape-rendering="crispEdges"/>
<line x1="422.5" y1="193.5" x2="426" y2="193.5" stroke="#000" stroke-width="0.7" shape-rendering="crispEdges"/>
<line x1="416.5" y1="193.5" x2="417.5" y2="193.5" stroke="#000" stroke-width="0.7" shape-rendering="crispEdges"/>
<line x1="503.2" y1="200.7" x2="503.2" y2="286.2" stroke="#000" stroke-width="0.8" shape-rendering="crispEdges"/>
<polygon points="503.2,200.7 504.3,203.9 502.1,203.9" fill="#000"/>
<polygon points="503.2,286.2 502.1,283 504.3,283" fill="#000"/>
<line x1="437" y1="200.3" x2="505" y2="200.3" stroke="#000" stroke-width="0.8" shape-rendering="crispEdges"/>
<text x="0" y="0" font-family="Liberation Sans" font-size="6.69" textLength="12.1" lengthAdjust="spacingAndGlyphs" text-anchor="middle" stroke="#000" stroke-width="0.2" style="white-space:pre" transform="translate(502.2 243.5) rotate(-90)">7.05</text>
<line x1="335.3" y1="211.4" x2="335.3" y2="262.3" stroke="#000" stroke-width="0.8" shape-rendering="crispEdges"/>
<polygon points="335.3,211.4 336.4,214.6 334.2,214.6" fill="#000"/>
<polygon points="335.3,262.3 334.2,259.1 336.4,259.1" fill="#000"/>
<line x1="334" y1="211.4" x2="352" y2="211.4" stroke="#000" stroke-width="0.8" shape-rendering="crispEdges"/>
<line x1="334" y1="262.3" x2="352" y2="262.3" stroke="#000" stroke-width="0.8" shape-rendering="crispEdges"/>
<text x="0" y="0" font-family="Liberation Sans" font-size="6.4" textLength="27.6" lengthAdjust="spacingAndGlyphs" text-anchor="middle" stroke="#000" stroke-width="0.2" style="white-space:pre" transform="translate(334.7 236.8) rotate(-90)">4.20±0.05</text>
<line x1="345.7" y1="220.4" x2="345.7" y2="286.4" stroke="#000" stroke-width="0.8" shape-rendering="crispEdges"/>
<polygon points="345.7,220.4 346.8,223.6 344.6,223.6" fill="#000"/>
<polygon points="345.7,286.4 344.6,283.2 346.8,283.2" fill="#000"/>
<text x="0" y="0" font-family="Liberation Sans" font-size="6.25" textLength="27.5" lengthAdjust="spacingAndGlyphs" text-anchor="middle" stroke="#000" stroke-width="0.2" style="white-space:pre" transform="translate(345.15 235.3) rotate(-90)">1.95±0.05</text>
<rect x="79.3" y="397.3" width="19.4" height="3.5" rx="0.8" fill="none" stroke="#000" stroke-width="1.0"/>
<rect x="98.5" y="392.1" width="4.3" height="10" rx="1.6" fill="none" stroke="#000" stroke-width="1.0"/>
<path d="M111,387.1 Q103.8,387.1 103.3,393.5 L103.3,402.5 L116,413.5" fill="none" stroke="#000" stroke-width="1.1"/>
<path d="M111,389.4 Q106.3,389.4 106.2,394 L106.2,401.8 L117.5,411.5" fill="none" stroke="#000" stroke-width="1.1"/>
<polyline points="116.3,412.5 118.5,419.5" fill="none" stroke="#000" stroke-width="1.0"/>
<rect x="116.3" y="410.3" width="7.2" height="2" rx="0" fill="none" stroke="#000" stroke-width="1.0"/>
<rect x="198.3" y="397.3" width="19.4" height="3.5" rx="0.8" fill="none" stroke="#000" stroke-width="1.0"/>
<rect x="194.2" y="392.1" width="4.3" height="10" rx="1.6" fill="none" stroke="#000" stroke-width="1.0"/>
<path d="M186,387.1 Q193.2,387.1 193.7,393.5 L193.7,402.5 L181,413.5" fill="none" stroke="#000" stroke-width="1.1"/>
<path d="M186,389.4 Q190.7,389.4 190.8,394 L190.8,401.8 L179.5,411.5" fill="none" stroke="#000" stroke-width="1.1"/>
<polyline points="180.7,412.5 178.5,419.5" fill="none" stroke="#000" stroke-width="1.0"/>
<rect x="173.5" y="410.3" width="7.2" height="2" rx="0" fill="none" stroke="#000" stroke-width="1.0"/>
<line x1="111" y1="387.1" x2="186" y2="387.1" stroke="#000" stroke-width="1.0" shape-rendering="crispEdges"/>
<line x1="111" y1="389.4" x2="186" y2="389.4" stroke="#000" stroke-width="1.0" shape-rendering="crispEdges"/>
<line x1="108.5" y1="391.4" x2="188.5" y2="391.4" stroke="#777" stroke-width="0.6" shape-rendering="crispEdges"/>
<line x1="110.6" y1="383.2" x2="186.4" y2="383.2" stroke="#000" stroke-width="1.0" shape-rendering="crispEdges"/>
<line x1="110.6" y1="385.4" x2="186.4" y2="385.4" stroke="#000" stroke-width="1.0" shape-rendering="crispEdges"/>
<line x1="116" y1="412.5" x2="181" y2="412.5" stroke="#000" stroke-width="1.0" shape-rendering="crispEdges"/>
<line x1="119.5" y1="416.5" x2="177.5" y2="416.5" stroke="#000" stroke-width="1.0" shape-rendering="crispEdges"/>
<line x1="118.5" y1="419.5" x2="178.5" y2="419.5" stroke="#000" stroke-width="1.0" shape-rendering="crispEdges"/>
<path d="M127.5,392.4 L169.1,392.4 L169.1,397 Q169.1,399.6 166.5,399.6 L130,399.6 Q127.5,399.6 127.5,397 Z" fill="none" stroke="#000" stroke-width="1.2"/>
<line x1="128" y1="393.9" x2="168.6" y2="393.9" stroke="#000" stroke-width="0.8" shape-rendering="crispEdges"/>
<line x1="132" y1="389.4" x2="132" y2="401.4" stroke="#000" stroke-width="0.8" shape-rendering="crispEdges"/>
<line x1="140.25" y1="389.4" x2="140.25" y2="401.4" stroke="#000" stroke-width="0.8" shape-rendering="crispEdges"/>
<line x1="148.5" y1="389.4" x2="148.5" y2="401.4" stroke="#000" stroke-width="0.8" shape-rendering="crispEdges"/>
<line x1="156.4" y1="389.4" x2="156.4" y2="401.4" stroke="#000" stroke-width="0.8" shape-rendering="crispEdges"/>
<line x1="164.6" y1="389.4" x2="164.6" y2="401.4" stroke="#000" stroke-width="0.8" shape-rendering="crispEdges"/>
<path d="M128.5,397.6 L129.8,397.6 Q129.8,399.8 132,399.8 Q134.2,399.8 134.2,397.6 L138.05,397.6 Q138.05,399.8 140.25,399.8 Q142.45,399.8 142.45,397.6 L146.3,397.6 Q146.3,399.8 148.5,399.8 Q150.7,399.8 150.7,397.6 L154.2,397.6 Q154.2,399.8 156.4,399.8 Q158.6,399.8 158.6,397.6 L162.4,397.6 Q162.4,399.8 164.6,399.8 Q166.8,399.8 166.8,397.6 L168.3,397.6" fill="none" stroke="#000" stroke-width="1.1"/>
<line x1="148.5" y1="378" x2="148.5" y2="420" stroke="#000" stroke-width="0.7" shape-rendering="crispEdges"/>
<line x1="148.5" y1="422" x2="148.5" y2="433" stroke="#000" stroke-width="0.7" shape-rendering="crispEdges"/>
<line x1="110.6" y1="372.2" x2="186.4" y2="372.2" stroke="#000" stroke-width="0.8" shape-rendering="crispEdges"/>
<polygon points="110.6,372.2 113.8,371.1 113.8,373.3" fill="#000"/>
<polygon points="186.4,372.2 183.2,373.3 183.2,371.1" fill="#000"/>
<line x1="110.6" y1="370.5" x2="110.6" y2="388.4" stroke="#000" stroke-width="0.8" shape-rendering="crispEdges"/>
<line x1="186.4" y1="370.5" x2="186.4" y2="388.4" stroke="#000" stroke-width="0.8" shape-rendering="crispEdges"/>
<text x="132.8" y="371" font-family="Liberation Sans" font-size="5.96" textLength="29.1" lengthAdjust="spacingAndGlyphs" stroke="#000" stroke-width="0.2" fill="#000" style="white-space:pre">6.20±0.10</text>
<line x1="116.3" y1="432.5" x2="180.3" y2="432.5" stroke="#000" stroke-width="0.8" shape-rendering="crispEdges"/>
<polygon points="116.3,432.5 119.5,431.4 119.5,433.6" fill="#000"/>
<polygon points="180.3,432.5 177.1,433.6 177.1,431.4" fill="#000"/>
<line x1="116.3" y1="419" x2="116.3" y2="434" stroke="#000" stroke-width="0.8" shape-rendering="crispEdges"/>
<line x1="180.3" y1="419" x2="180.3" y2="434" stroke="#000" stroke-width="0.8" shape-rendering="crispEdges"/>
<text x="135" y="431.2" font-family="Liberation Sans" font-size="6.1" textLength="28.75" lengthAdjust="spacingAndGlyphs" stroke="#000" stroke-width="0.2" fill="#000" style="white-space:pre">5.20±0.10</text>
<line x1="106" y1="448" x2="191.2" y2="448" stroke="#000" stroke-width="0.8" shape-rendering="crispEdges"/>
<polygon points="106,448 109.2,446.9 109.2,449.1" fill="#000"/>
<polygon points="191.2,448 188,449.1 188,446.9" fill="#000"/>
<line x1="106" y1="402" x2="106" y2="449.5" stroke="#000" stroke-width="0.8" shape-rendering="crispEdges"/>
<line x1="191.2" y1="402" x2="191.2" y2="449.5" stroke="#000" stroke-width="0.8" shape-rendering="crispEdges"/>
<text x="137.2" y="445.6" font-family="Liberation Sans" font-size="5.81" textLength="14" lengthAdjust="spacingAndGlyphs" stroke="#000" stroke-width="0.2" fill="#000" style="white-space:pre">6.90</text>
<text x="151.3" y="443.4" font-family="Liberation Sans" font-size="4.07" textLength="11" lengthAdjust="spacingAndGlyphs" stroke="#000" stroke-width="0.2" fill="#000" style="white-space:pre">+0.05</text>
<text x="151.3" y="447.4" font-family="Liberation Sans" font-size="4.07" textLength="11" lengthAdjust="spacingAndGlyphs" stroke="#000" stroke-width="0.2" fill="#000" style="white-space:pre">−0.05</text>
<line x1="91.8" y1="389.5" x2="91.8" y2="412.5" stroke="#000" stroke-width="0.8" shape-rendering="crispEdges"/>
<polygon points="91.8,389.5 92.9,392.7 90.7,392.7" fill="#000"/>
<polygon points="91.8,412.5 90.7,409.3 92.9,409.3" fill="#000"/>
<line x1="91.8" y1="357.1" x2="91.8" y2="389.5" stroke="#000" stroke-width="0.8" shape-rendering="crispEdges"/>
<line x1="90" y1="389.5" x2="105" y2="389.5" stroke="#000" stroke-width="0.8" shape-rendering="crispEdges"/>
<line x1="90" y1="412.5" x2="116" y2="412.5" stroke="#000" stroke-width="0.8" shape-rendering="crispEdges"/>
<text x="0" y="0" font-family="Liberation Sans" font-size="6.1" textLength="13" lengthAdjust="spacingAndGlyphs" text-anchor="middle" stroke="#000" stroke-width="0.2" style="white-space:pre" transform="translate(89.3 376.2) rotate(-90)">1.85</text>
<text x="0" y="0" font-family="Liberation Sans" font-size="4.07" textLength="10" lengthAdjust="spacingAndGlyphs" text-anchor="middle" stroke="#000" stroke-width="0.2" style="white-space:pre" transform="translate(86.4 363.2) rotate(-90)">+0.05</text>
<text x="0" y="0" font-family="Liberation Sans" font-size="4.07" textLength="10" lengthAdjust="spacingAndGlyphs" text-anchor="middle" stroke="#000" stroke-width="0.2" style="white-space:pre" transform="translate(90.6 363.2) rotate(-90)">−0.05</text>
<line x1="226.2" y1="400.3" x2="226.2" y2="415.2" stroke="#000" stroke-width="0.8" shape-rendering="crispEdges"/>
<polygon points="226.2,400.3 227.3,403.5 225.1,403.5" fill="#000"/>
<polygon points="226.2,415.2 225.1,412 227.3,412" fill="#000"/>
<line x1="226.2" y1="415.2" x2="226.2" y2="449.8" stroke="#000" stroke-width="0.8" shape-rendering="crispEdges"/>
<line x1="199" y1="400.3" x2="228.5" y2="400.3" stroke="#000" stroke-width="0.8" shape-rendering="crispEdges"/>
<line x1="180" y1="415.2" x2="228.5" y2="415.2" stroke="#000" stroke-width="0.8" shape-rendering="crispEdges"/>
<text x="0" y="0" font-family="Liberation Sans" font-size="6.69" textLength="29.2" lengthAdjust="spacingAndGlyphs" text-anchor="middle" stroke="#000" stroke-width="0.2" style="white-space:pre" transform="translate(225.55 434.1) rotate(-90)">1.20±0.10</text></svg></body></html>
